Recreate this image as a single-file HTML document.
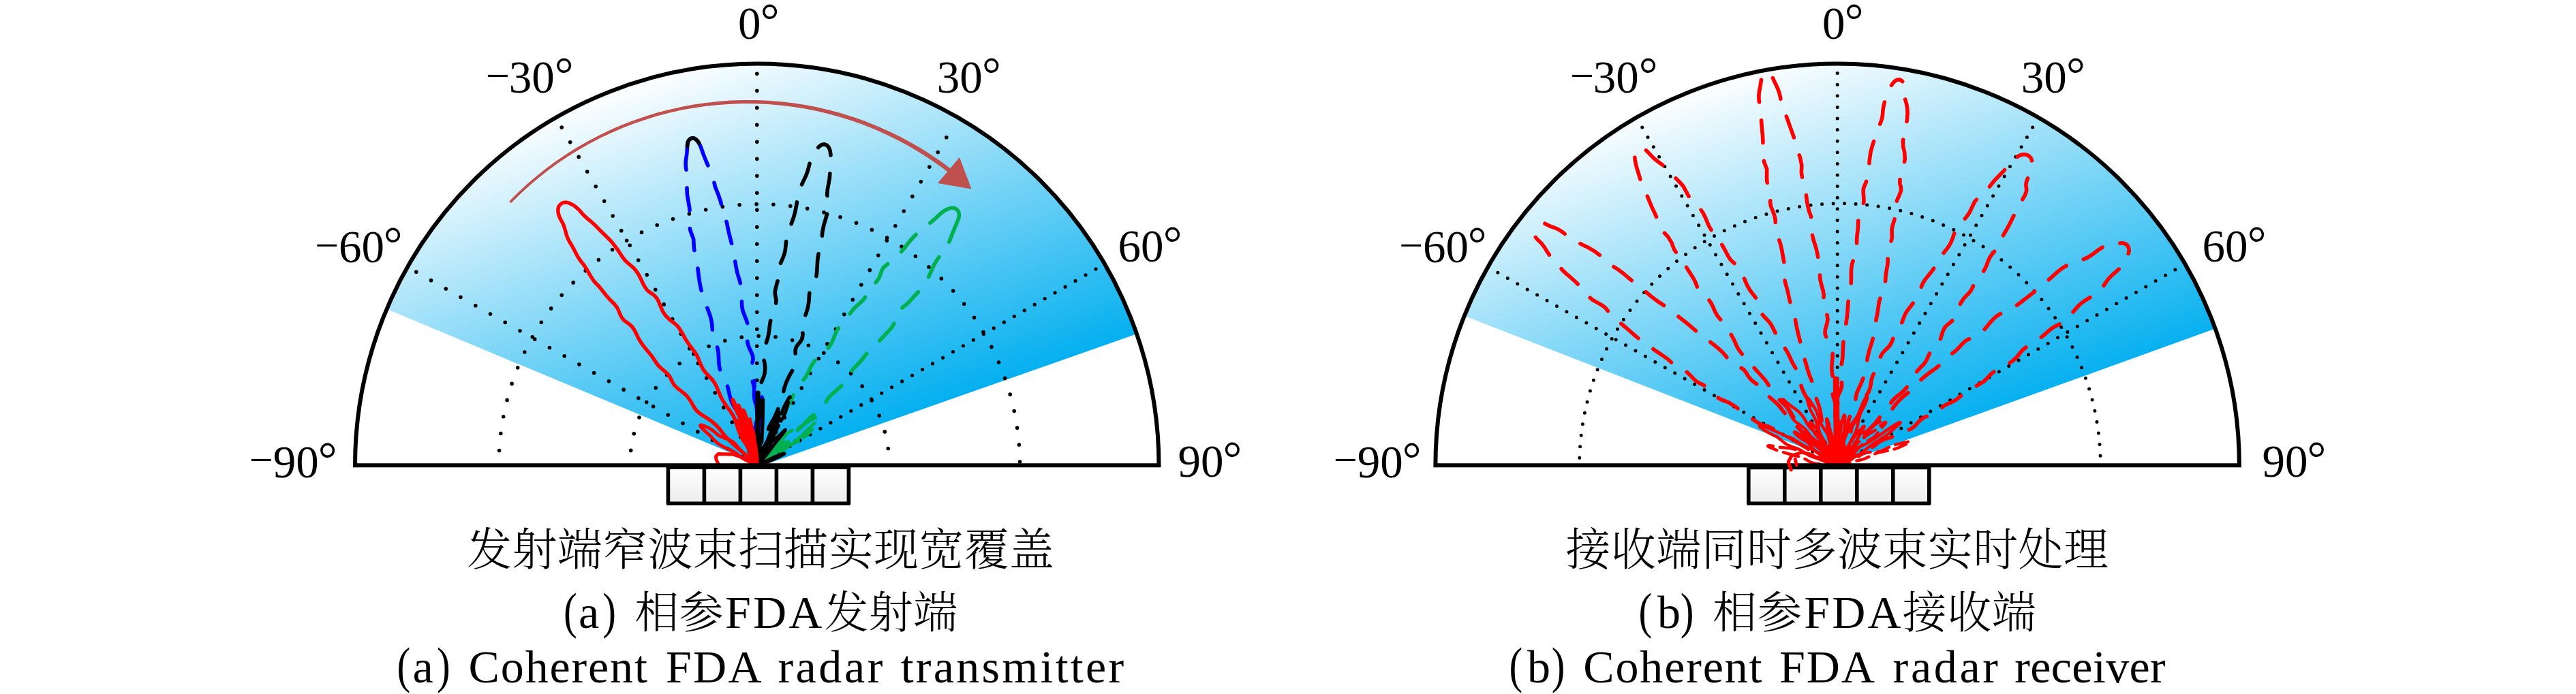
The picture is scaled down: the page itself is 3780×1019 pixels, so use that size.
<!DOCTYPE html>
<html lang="zh"><head><meta charset="utf-8"><title>Coherent FDA radar</title>
<style>html,body{margin:0;padding:0;background:#fff}svg{display:block}text{font-family:'Liberation Serif','Noto Serif CJK SC',serif;fill:#000;white-space:pre}</style>
</head><body>
<svg width="3780" height="1019" viewBox="0 0 3780 1019">
<defs>
<linearGradient id="gL" gradientUnits="userSpaceOnUse" x1="1116.7" y1="52.7" x2="1320" y2="625.7"><stop offset="0" stop-color="#fff"/><stop offset="1" stop-color="#00aeef"/></linearGradient>
<linearGradient id="gR" gradientUnits="userSpaceOnUse" x1="2702.1" y1="52.7" x2="2905.4" y2="625.7"><stop offset="0" stop-color="#fff"/><stop offset="1" stop-color="#00aeef"/></linearGradient>
<linearGradient id="gbox" x1="0" y1="0" x2="0" y2="1"><stop offset="0" stop-color="#fff"/><stop offset="1" stop-color="#ececec"/></linearGradient>
</defs>
<rect width="3780" height="1019" fill="#fff"/>
<path d="M1117.75 683.80 L567.48 453.81 A589.75 589.75 0 0 1 1668.03 490.32 Z" fill="url(#gL)"/>
<g fill="none" stroke="#000" stroke-width="5.6" stroke-linecap="round" stroke-dasharray="0 25">
<path d="M610.8 399.3 L1110.8 683.3"/>
<path d="M824.2 187.1 L1110.8 683.3"/>
<path d="M1110.8 108.3 L1110.8 683.3"/>
<path d="M1388.8 201.8 L1110.8 683.3"/>
<path d="M1608 395.1 L1110.8 683.3" stroke-dasharray="0 17.3" stroke-width="5.2"/>
<path d="M731.95 683.30 A382.30 383.50 0 0 1 1114.25 299.80 A382.30 383.50 0 0 1 1496.55 683.30" stroke-dashoffset="3"/>
<path d="M924.45 683.30 A190.20 190.00 0 0 1 1114.65 493.30 A190.20 190.00 0 0 1 1304.85 683.30" stroke-dashoffset="3"/>
</g>
<path d="M1110.8 683.3 L1113.8 682 L1116.9 680.7 L1120.2 679.6 L1123.5 678.4 L1126.8 677.1 L1130 675.8 L1133.1 674.2 L1136 672.4 L1138.8 670.5 L1141.5 668.5 L1144.1 666.4 L1146.5 664.4 L1148.7 662.4 L1151 660.5 L1153.2 658.5 L1155.5 656.7 L1157.9 654.8 L1160.5 653.1 L1163.1 651.3 L1166.3 649 L1169.3 646.7 L1172 644.3 L1174.6 641.8 L1177 639.3 L1179.2 636.8 L1181.4 634.5 L1183.6 632.4 L1185.7 630.4 L1187.6 628.6 L1189.4 626.9 L1191 625.4 L1192.5 624 L1193.8 622.7 L1195 621.6 L1196 620.5 L1196.9 619.5 L1197.7 618.5 L1198.3 617.7 L1198.9 617 L1199.2 616.3 L1199.4 615.6 L1199.5 615.1 L1199.4 614.6 L1199.1 614.1 L1198.7 613.8 L1198.2 613.6 L1197.6 613.5 L1196.9 613.6 L1196.2 613.8 L1195.3 614.1 L1194.2 614.6 L1193.1 615.2 L1191.9 615.8 L1190.5 616.6 L1189 617.5 L1187.4 618.5 L1185.7 619.5 L1183.9 620.7 L1182 621.8 L1180 623 L1178 624.2 L1175.7 625.5 L1173 626.8 L1169.9 628.2 L1166.5 629.7 L1163 631.4 L1159.5 633.4 L1156.3 635.6 L1153.6 638 L1151.8 640.2 L1150 642.5 L1148.2 644.7 L1146.2 647 L1143.9 649.2 L1141.2 651.4 L1138.3 653.5 L1135.3 655.7 L1132.4 657.8 L1129.7 659.9 L1127.3 662.1 L1125 664.3 L1123 666.8 L1121 669.4 L1119 672.1 L1117 675 L1115 677.8 L1112.9 680.6 L1110.8 683.3" fill="none" stroke="#00b050" stroke-width="4.6" stroke-linecap="round" stroke-linejoin="round" stroke-dasharray="28 11"/>
<path d="M1110.8 683.3 L1113.3 681.9 L1115.9 680.6 L1118.5 679.3 L1121.1 678 L1123.6 676.7 L1126 675.4 L1128.4 674.1 L1130.8 672.6 L1133.1 671.2 L1135.4 669.6 L1137.7 668.1 L1140.1 666.4 L1142.5 664.7 L1145 663 L1147.6 661.2 L1150.1 659.5 L1152.7 657.8 L1155.3 656.2 L1157.9 654.7 L1161 653 L1164 651.5 L1166.7 650.1 L1169.2 648.8 L1171.5 647.6 L1173.7 646.3 L1175.6 645 L1177.5 643.7 L1179.3 642.4 L1181 641.1 L1182.6 639.8 L1184.1 638.7 L1185.5 637.6 L1186.8 636.5 L1188 635.6 L1189.1 634.8 L1190.1 634 L1190.9 633.3 L1191.7 632.7 L1192.3 632.2 L1192.8 631.8 L1193.1 631.4 L1193.3 631 L1193.4 630.8 L1193.4 630.6 L1193.2 630.5 L1193 630.4 L1192.6 630.5 L1192.1 630.6 L1191.5 630.8 L1190.8 631.1 L1190 631.5 L1189.1 632 L1188 632.6 L1186.9 633.2 L1185.6 633.9 L1184.3 634.6 L1182.8 635.5 L1181.2 636.5 L1179.6 637.6 L1177.8 638.9 L1175.9 640.3 L1173.9 641.9 L1171.7 643.6 L1169.4 645.3 L1166.8 646.9 L1164 648.4 L1161.1 650 L1158 651.5 L1154.8 653.1 L1152.1 654.5 L1149.6 656 L1147 657.5 L1144.5 659 L1142 660.5 L1139.7 662 L1137.5 663.5 L1135.3 665 L1133.1 666.4 L1130.9 667.9 L1128.7 669.5 L1126.5 671.1 L1124.2 672.8 L1122 674.5 L1119.8 676.3 L1117.5 678.1 L1115.3 679.9 L1113 681.6 L1110.8 683.3" fill="none" stroke="#00b050" stroke-width="4.6" stroke-linecap="round" stroke-linejoin="round" stroke-dasharray="11 9"/>
<path d="M1110.8 683.3 L1112.3 682.5 L1113.9 681.7 L1115.5 681 L1117.1 680.3 L1118.7 679.6 L1120.3 678.9 L1121.8 678.1 L1123.2 677.2 L1124.6 676.3 L1125.9 675.3 L1127.2 674.4 L1128.4 673.4 L1129.6 672.4 L1130.8 671.3 L1131.9 670.3 L1133 669.2 L1134.1 668.2 L1135.3 667.1 L1136.6 666.1 L1138.1 664.8 L1139.7 663.6 L1141.3 662.4 L1142.8 661.3 L1144.3 660.3 L1145.8 659.3 L1147.1 658.3 L1148.4 657.4 L1149.5 656.5 L1150.6 655.6 L1151.5 654.8 L1152.4 654 L1153.2 653.3 L1153.9 652.6 L1154.6 652 L1155.2 651.5 L1155.7 651 L1156.1 650.5 L1156.5 650.1 L1156.8 649.7 L1157 649.4 L1157.2 649.1 L1157.2 648.8 L1157.2 648.6 L1157.2 648.5 L1157 648.3 L1156.8 648.3 L1156.6 648.3 L1156.2 648.3 L1155.9 648.5 L1155.4 648.6 L1154.9 648.9 L1154.4 649.2 L1153.7 649.5 L1153 649.9 L1152.2 650.3 L1151.4 650.8 L1150.5 651.3 L1149.5 651.9 L1148.5 652.5 L1147.3 653.1 L1146.1 653.9 L1144.9 654.7 L1143.6 655.5 L1142.3 656.5 L1141 657.5 L1139.6 658.6 L1138.1 659.9 L1136.7 661.2 L1135.1 662.6 L1133.9 663.7 L1132.6 664.8 L1131.2 665.9 L1129.8 666.9 L1128.4 667.9 L1127 668.9 L1125.6 669.8 L1124.2 670.8 L1122.8 671.8 L1121.4 672.8 L1120.1 673.8 L1118.8 674.8 L1117.6 675.9 L1116.4 677.1 L1115.3 678.3 L1114.2 679.6 L1113 680.9 L1111.9 682.1 L1110.8 683.3" fill="none" stroke="#00b050" stroke-width="4.6" stroke-linecap="round" stroke-linejoin="round"/>
<path d="M1403.9 307.7 L1402.2 306.4 L1400.3 305.6 L1398.2 305.2 L1396.1 305.3 L1393.9 305.8 L1391.5 306.6 L1388.9 307.7 L1386 309.3 L1382.8 311.5 L1379.3 314.4 L1375.5 318 L1371.6 321.7 L1367.4 325.4 L1362.8 329 L1357.7 333 L1352 337.5 L1346.1 342.5 L1340.6 347.9 L1335.5 353.5 L1330.9 359.3 L1326.3 365.3 L1320.4 372.1 L1312.9 379.5 L1304.4 386 L1296.7 392.5 L1294.3 396.4 L1292.6 400.9 L1290.9 405.6 L1288.8 410.1 L1285.7 414 L1282.1 417.6 L1278.5 421.1 L1275.5 425 L1273.1 429.2 L1271 433.7 L1268.5 438 L1265.3 441.9 L1261.3 445.5 L1257.2 449.1 L1253.2 452.9 L1249.7 457.1 L1246.6 461.5 L1243.5 466 L1240.1 470.4 L1236.5 474.6 L1232.9 478.6 L1229.9 482.5 L1227.5 486.4 L1225.8 490.2 L1224.3 494 L1222.8 497.9 L1221 501.9 L1218.8 506 L1215.9 510.1 L1212.1 514.2 L1207.7 518.2 L1203.2 522.2 L1199 526 L1195.6 529.8 L1192.8 533.7 L1190.4 537.6 L1188.3 541.7 L1186.3 546 L1184.1 550.3 L1181.6 554.5 L1178.5 558.6 L1175.1 562.6 L1171.6 566.6 L1168.6 570.9 L1166 575.6 L1163.9 580.5 L1161.9 585.2 L1159.7 589.7 L1157.3 594 L1154.9 598.2 L1152.5 602.7 L1150.2 607.6 L1148 612.5 L1146.1 617.1 L1144.3 621.2 L1142.6 624.7 L1140.8 628.2 L1138.7 632.4 L1136.1 637.6 L1133.2 643.4 L1130.4 649 L1128 653.7 L1125.9 657.6 L1123.8 661.3 L1121.4 665.3 L1118.6 669.6 L1115.9 674.2 L1113.2 678.8 L1110.8 683.3" fill="none" stroke="#00b050" stroke-width="5.6" stroke-linecap="round" stroke-linejoin="round" stroke-dasharray="47.2 27 33 27 33 27 33 27 33 27 33 27 33 27 33 27 33 27 33 27 33 27 33 27 33 27"/>
<path d="M1403.9 307.7 L1405.4 309.2 L1406.5 311 L1407.1 312.9 L1407.4 315.2 L1407.2 317.8 L1406.6 320.6 L1405.5 323.7 L1404.2 326.9 L1402.8 330.3 L1401.2 334 L1399.6 337.9 L1397.7 342.6 L1395.5 348.3 L1393 354.5 L1390.3 360.3 L1387.5 365 L1384.2 369.3 L1380.1 374.5 L1375.1 381.4 L1370.4 389.3 L1366.5 397.8 L1362.8 406.4 L1358.5 414.9 L1352.9 422.9 L1345.8 430.5 L1342.3 434.2 L1338.8 438.1 L1335.3 442 L1331.6 445.7 L1327.6 449 L1323.7 452 L1320.1 455 L1317.3 458.5 L1315.6 462.7 L1314.4 467.4 L1313.1 472.2 L1311.1 476.9 L1308.2 481.2 L1304.7 485.3 L1300.9 489.3 L1297.3 493.1 L1293.8 496.9 L1290.2 500.6 L1286.4 504.3 L1282.5 508.1 L1278.6 511.8 L1274.9 515.4 L1271.8 518.9 L1269.2 522.4 L1266.6 525.9 L1263.5 529.7 L1259.8 533.6 L1255.8 537.8 L1251.9 541.9 L1248.9 545.8 L1246.7 549.6 L1245 553.2 L1243.1 556.8 L1240.5 560.5 L1237.2 564.2 L1233.3 568 L1228.9 571.9 L1224.4 575.7 L1220 579.6 L1216.2 583.6 L1213.3 587.8 L1211.2 592 L1209.1 596.2 L1206.4 600.1 L1202.5 603.7 L1197.7 607 L1192.7 610.3 L1188.3 613.7 L1184.6 617.4 L1181.4 621 L1178.3 624.6 L1175 627.7 L1171.4 630.7 L1167.7 633.7 L1164.2 636.7 L1160.8 640.1 L1157.2 643.5 L1153.2 646.8 L1148.4 649.6 L1143.2 652.3 L1138.2 655 L1134.3 658.3 L1131.5 662.2 L1129 666.1 L1126.3 669.9 L1123 673.4 L1119.1 676.6 L1114.9 679.8 L1110.8 683.3" fill="none" stroke="#00b050" stroke-width="5.6" stroke-linecap="round" stroke-linejoin="round" stroke-dasharray="51.2 27 33 27 33 27 33 27 33 27 33 27 33 27 33 27 33 27 33 27 33 27 33 27 33 27"/>
<path d="M1015 203 L1013.2 203.7 L1011.6 204.9 L1010.3 206.6 L1009.3 208.8 L1008.8 211.6 L1008.5 214.9 L1008.3 218.8 L1008 223.2 L1007.5 228.1 L1006.7 233.3 L1006.1 238.8 L1006.3 244.9 L1007.4 251.7 L1008.5 259.3 L1008.5 267.7 L1008 276.6 L1008.3 285.1 L1009.8 294.2 L1011.8 305.4 L1012.3 317.1 L1010.8 327.3 L1012.9 338.2 L1017.6 350.9 L1018.4 364.2 L1020.2 376.1 L1021.4 379.9 L1022.5 383.8 L1023.2 388.1 L1023.8 392.6 L1024.3 397.4 L1024.9 402.7 L1025.7 408.2 L1026.5 413.7 L1027.5 419.1 L1028.5 424 L1029.6 428.3 L1030.6 432.3 L1031.8 436.1 L1033.2 440 L1034.7 444.1 L1036.3 448.4 L1038.1 452.8 L1039.9 457.5 L1041.6 462.3 L1043 467.2 L1044.1 471.8 L1044.7 476.2 L1045 480.2 L1045.3 484.3 L1045.9 488.5 L1047 493.1 L1048.5 498 L1050.3 502.9 L1051.9 507.6 L1053.1 511.9 L1053.8 515.8 L1054.2 519.8 L1054.5 524.1 L1054.7 528.9 L1055 533.9 L1055.6 538.9 L1056.7 543.4 L1058.4 547.1 L1060.5 550.5 L1062.8 554.1 L1064.9 558.5 L1066.7 563.8 L1068.2 569.6 L1069.5 575.4 L1070.7 580.6 L1071.8 584.8 L1073 588.3 L1074.4 591.6 L1076 594.9 L1077.9 598.4 L1080 602.3 L1082.1 606.6 L1084.2 611.3 L1086.2 616.2 L1088.1 621.2 L1089.9 626.1 L1091.4 630.6 L1092.7 634.8 L1093.9 639 L1095 643.3 L1096.4 647.9 L1098 652.5 L1099.7 657.1 L1101.7 661.4 L1103.8 665.6 L1105.7 669.8 L1107.6 674.2 L1109.2 678.7 L1110.8 683.3" fill="none" stroke="#00f" stroke-width="5.6" stroke-linecap="round" stroke-linejoin="round" stroke-dasharray="49.2 27 33 27 33 27 33 27 33 27 33 27 33 27 33 27 33 27 33 27 33 27 33 27 33 27"/>
<path d="M1015 203 L1017 202.9 L1018.8 203.3 L1020.6 204.2 L1022.4 205.8 L1024.1 207.7 L1025.7 210.2 L1027.1 213 L1028.4 216.1 L1029.8 219.8 L1031.4 224.5 L1033.7 230.5 L1036.5 237.5 L1039.9 245.2 L1043.6 253.1 L1046.4 260.5 L1047.7 267.2 L1049.6 274.8 L1053.7 284.9 L1057.7 296.6 L1059.8 308 L1062.6 317.1 L1066.3 326.3 L1069 339.3 L1072.5 353.7 L1076 365.9 L1076.7 369.4 L1077.2 373.1 L1077.8 377.5 L1078.6 382.8 L1079.5 388.6 L1080.6 394.5 L1081.7 399.8 L1082.9 404 L1084 407.6 L1085.1 411 L1086.1 414.7 L1087 419.1 L1087.8 424 L1088.3 429.1 L1088.6 434.3 L1088.6 439.4 L1088.5 444.3 L1088.7 449.1 L1089.4 453.7 L1090.6 458.2 L1092.3 462.6 L1094 466.7 L1095.5 470.8 L1096.7 474.7 L1097.4 478.7 L1097.7 482.9 L1097.5 487.5 L1097 492.4 L1096.6 497.6 L1096.9 502.9 L1098.4 508.3 L1100.6 513.5 L1103 518.5 L1104.7 523.3 L1105 527.8 L1104.2 532 L1103.1 536 L1102.3 539.9 L1102.7 543.8 L1103.9 547.7 L1105.4 551.9 L1106.6 556.5 L1107.1 561.4 L1107 566.7 L1106.6 572 L1106.4 577.2 L1106.6 581.9 L1107.1 586.4 L1108 590.8 L1108.9 595.3 L1109.8 600 L1110.6 604.8 L1110.9 609.7 L1110.8 614.5 L1110 619.3 L1109 624 L1108 628.4 L1107.3 632.6 L1107.1 636.7 L1107.1 640.9 L1107.4 645.4 L1107.9 650.4 L1108.3 655.7 L1108.8 660.9 L1109.2 665.8 L1109.7 670.5 L1110.1 674.8 L1110.4 679 L1110.8 683.3" fill="none" stroke="#00f" stroke-width="5.6" stroke-linecap="round" stroke-linejoin="round" stroke-dasharray="49.2 27 33 27 33 27 33 27 33 27 33 27 33 27 33 27 33 27 33 27 33 27 33 27 33 27"/>
<path d="M1025.7 210.2 L1024.1 207.7 L1022.4 205.8 L1020.6 204.2 L1018.8 203.3 L1017 202.9 L1015 203 L1013.2 203.7 L1011.6 204.9 L1010.3 206.6 L1009.3 208.8 L1008.8 211.6 L1008.5 214.9" fill="none" stroke="#000" stroke-width="5.6" stroke-linecap="round" stroke-linejoin="round"/>
<path d="M1103.8 560 L1106.8 572 L1109.8 600 L1111.8 620" fill="none" stroke="#00f" stroke-width="4.5" stroke-linecap="round" stroke-linejoin="round"/>
<path d="M1110.8 683.3 L1111.2 680.4 L1111.7 677.4 L1112.3 674.4 L1113 671.5 L1113.5 668.6 L1114.1 665.7 L1114.5 662.9 L1114.7 660.1 L1114.9 657.3 L1115.1 654.5 L1115.3 651.7 L1115.5 648.9 L1115.8 646 L1116.2 643 L1116.5 640 L1116.9 636.9 L1117.2 633.8 L1117.4 630.7 L1117.4 627.5 L1117.3 623.7 L1117 620 L1116.8 616.6 L1116.5 613.3 L1116.5 610.3 L1116.7 607.5 L1116.9 604.9 L1117.3 602.5 L1117.6 600.2 L1117.9 598 L1118.1 596 L1118.4 594.1 L1118.5 592.4 L1118.7 590.7 L1118.8 589.2 L1118.8 587.9 L1118.9 586.7 L1118.9 585.6 L1118.9 584.7 L1118.8 583.9 L1118.8 583.3 L1118.7 582.7 L1118.6 582.4 L1118.4 582.2 L1118.3 582.1 L1118.1 582.2 L1117.9 582.4 L1117.7 582.7 L1117.6 583.3 L1117.4 583.9 L1117.3 584.7 L1117.1 585.7 L1116.9 586.8 L1116.7 588.1 L1116.5 589.5 L1116.3 591.2 L1116.1 593 L1115.9 595 L1115.6 597.1 L1115.2 599.3 L1114.9 601.6 L1114.6 603.8 L1114.4 606.1 L1114.3 608.2 L1114.4 610.3 L1114.5 612.4 L1114.6 614.8 L1114.5 617.5 L1114.3 620.8 L1113.7 624.7 L1113 628.1 L1112.3 631.7 L1111.6 635.2 L1111 638.6 L1110.5 641.8 L1110.2 644.8 L1110 647.6 L1110.1 650.4 L1110.2 653.2 L1110.3 656.1 L1110.5 659.1 L1110.7 662.2 L1110.9 665.3 L1111.1 668.4 L1111.1 671.5 L1111.1 674.5 L1111.1 677.5 L1110.9 680.4 L1110.8 683.3" fill="none" stroke="#00f" stroke-width="4" stroke-linecap="round" stroke-linejoin="round"/>
<path d="M1110.8 683.3 L1112.5 680.7 L1114.3 678.1 L1116.2 675.4 L1118 672.8 L1119.8 670 L1121.5 667.1 L1123.1 664.2 L1124.6 661.1 L1126 658.1 L1127.3 655.1 L1128.6 652.2 L1130 649.6 L1131.3 647.1 L1132.6 644.7 L1134 642.2 L1135.4 639.7 L1136.8 636.9 L1138.2 634 L1139.7 630.9 L1141.5 627 L1143.3 623.4 L1145.1 620 L1146.8 617 L1148.5 614.1 L1150.1 611.4 L1151.4 608.6 L1152.5 605.8 L1153.4 603 L1154.2 600.3 L1155 597.8 L1155.6 595.6 L1156.2 593.6 L1156.8 591.8 L1157.3 590.3 L1157.8 588.9 L1158.2 587.6 L1158.6 586.4 L1159 585.4 L1159.2 584.6 L1159.4 583.9 L1159.5 583.3 L1159.5 582.9 L1159.5 582.6 L1159.3 582.5 L1159.1 582.5 L1158.9 582.6 L1158.5 582.9 L1158.1 583.4 L1157.7 584 L1157.2 584.8 L1156.6 585.8 L1156 586.9 L1155.3 588.2 L1154.5 589.5 L1153.6 591.1 L1152.6 592.8 L1151.7 594.7 L1150.7 596.7 L1149.7 599 L1148.8 601.3 L1148 603.8 L1147.2 606.4 L1146.4 609.2 L1145.3 612.1 L1143.8 615.2 L1142 618.6 L1139.9 622.2 L1137.7 626 L1135.5 629.8 L1133.9 632.9 L1132.4 635.9 L1130.9 638.9 L1129.5 641.8 L1128.1 644.7 L1126.6 647.6 L1125.1 650.4 L1123.5 653.1 L1122 655.7 L1120.6 658.3 L1119.2 660.8 L1118 663.2 L1116.9 665.8 L1115.8 668.4 L1114.9 671.1 L1113.9 674 L1112.9 677 L1111.9 680.1 L1110.8 683.3" fill="none" stroke="#000" stroke-width="4.6" stroke-linecap="round" stroke-linejoin="round" stroke-dasharray="30 7"/>
<path d="M1110.8 683.3 L1111.9 681.2 L1113.2 679.1 L1114.5 677 L1115.8 674.8 L1117 672.7 L1118.2 670.5 L1119.3 668.3 L1120.4 666 L1121.3 663.7 L1122.2 661.4 L1123.1 659 L1123.9 656.6 L1124.8 654.2 L1125.7 651.7 L1126.6 649.2 L1127.7 646.7 L1128.8 644.3 L1129.9 641.9 L1131 639.6 L1132.3 637 L1133.4 634.6 L1134.2 632.5 L1134.9 630.6 L1135.5 628.8 L1136.1 626.9 L1136.8 625.1 L1137.5 623.2 L1138.3 621.3 L1139 619.5 L1139.8 617.7 L1140.6 616 L1141.3 614.4 L1141.9 612.9 L1142.5 611.6 L1142.9 610.5 L1143.3 609.5 L1143.7 608.5 L1144 607.8 L1144.2 607.1 L1144.4 606.5 L1144.5 606.1 L1144.6 605.7 L1144.6 605.5 L1144.5 605.4 L1144.4 605.4 L1144.2 605.5 L1144 605.8 L1143.8 606.1 L1143.5 606.6 L1143.2 607.1 L1142.9 607.8 L1142.5 608.6 L1142.1 609.5 L1141.6 610.6 L1141 611.7 L1140.4 613 L1139.7 614.4 L1139 616 L1138.2 617.7 L1137.3 619.5 L1136.3 621.6 L1135.2 623.7 L1134.1 626.1 L1133 628.4 L1132 630.9 L1131 633.3 L1130 635.7 L1129.2 638.1 L1128.2 640.6 L1127.5 642.6 L1126.6 644.6 L1125.8 646.7 L1124.8 648.7 L1123.8 650.8 L1122.7 653 L1121.7 655.2 L1120.6 657.4 L1119.6 659.6 L1118.5 661.9 L1117.5 664.2 L1116.5 666.5 L1115.6 668.9 L1114.7 671.3 L1113.9 673.7 L1113.2 676.1 L1112.4 678.5 L1111.6 680.9 L1110.8 683.3" fill="none" stroke="#000" stroke-width="4.6" stroke-linecap="round" stroke-linejoin="round"/>
<path d="M1110.8 683.3 L1112.1 681.9 L1113.4 680.6 L1114.6 679.3 L1115.9 678.1 L1117.1 676.8 L1118.3 675.5 L1119.5 674.2 L1120.6 672.8 L1121.8 671.4 L1123 669.9 L1124.1 668.4 L1125.3 666.9 L1126.5 665.3 L1127.8 663.7 L1129 662.1 L1130.2 660.5 L1131.5 658.8 L1132.7 657.2 L1133.9 655.6 L1135.3 653.6 L1136.8 651.8 L1138.1 650 L1139.4 648.4 L1140.7 646.8 L1141.9 645.3 L1143.1 643.9 L1144.2 642.5 L1145.3 641.2 L1146.3 640 L1147.1 638.8 L1148 637.7 L1148.7 636.7 L1149.4 635.8 L1150 635 L1150.6 634.2 L1151.1 633.5 L1151.5 632.9 L1151.9 632.4 L1152.2 631.9 L1152.4 631.5 L1152.6 631.2 L1152.6 631 L1152.6 630.8 L1152.6 630.7 L1152.5 630.7 L1152.3 630.7 L1152.1 630.9 L1151.8 631.1 L1151.5 631.4 L1151.1 631.7 L1150.7 632.2 L1150.2 632.7 L1149.6 633.3 L1149 634 L1148.3 634.7 L1147.5 635.5 L1146.6 636.4 L1145.7 637.3 L1144.6 638.3 L1143.4 639.4 L1142.1 640.5 L1140.6 641.7 L1139 642.9 L1137.3 644.2 L1135.6 645.7 L1133.9 647.2 L1132.4 648.9 L1131.1 650.9 L1130.2 653 L1129.6 654.7 L1129 656.5 L1128.3 658.2 L1127.5 659.9 L1126.6 661.5 L1125.6 663 L1124.4 664.5 L1123.2 666 L1121.9 667.5 L1120.6 668.9 L1119.3 670.4 L1118.1 671.9 L1116.9 673.4 L1115.8 675 L1114.8 676.7 L1113.8 678.3 L1112.8 680 L1111.8 681.6 L1110.8 683.3" fill="none" stroke="#000" stroke-width="4.6" stroke-linecap="round" stroke-linejoin="round"/>
<path d="M1110.8 683.3 L1112 683 L1113.2 682.6 L1114.5 682.3 L1115.8 682 L1117 681.7 L1118.3 681.4 L1119.6 681 L1120.8 680.6 L1122 680.1 L1123.3 679.6 L1124.5 679.2 L1125.7 678.7 L1126.9 678.2 L1128 677.7 L1129.2 677.2 L1130.4 676.7 L1131.5 676.1 L1132.7 675.6 L1133.9 675.1 L1135.3 674.5 L1136.6 673.9 L1137.8 673.3 L1139 672.7 L1140.2 672.2 L1141.3 671.6 L1142.3 671.1 L1143.3 670.7 L1144.2 670.2 L1145.1 669.8 L1145.9 669.3 L1146.6 668.9 L1147.3 668.6 L1148 668.2 L1148.5 667.9 L1149.1 667.6 L1149.5 667.4 L1149.9 667.1 L1150.3 666.9 L1150.6 666.7 L1150.8 666.5 L1151 666.4 L1151.1 666.2 L1151.1 666.1 L1151.1 666 L1151 665.9 L1150.9 665.8 L1150.7 665.8 L1150.5 665.8 L1150.2 665.9 L1149.8 665.9 L1149.4 666.1 L1149 666.2 L1148.5 666.3 L1147.9 666.5 L1147.2 666.7 L1146.5 667 L1145.8 667.2 L1145 667.5 L1144.1 667.8 L1143.2 668.2 L1142.2 668.5 L1141.2 668.9 L1140.1 669.3 L1139 669.8 L1137.8 670.3 L1136.6 670.8 L1135.3 671.4 L1134 672 L1132.7 672.7 L1131.6 673.2 L1130.5 673.7 L1129.4 674.3 L1128.3 674.8 L1127.1 675.3 L1126 675.8 L1124.8 676.3 L1123.6 676.8 L1122.4 677.3 L1121.2 677.8 L1120 678.3 L1118.8 678.9 L1117.6 679.4 L1116.5 680.1 L1115.3 680.7 L1114.2 681.4 L1113 682 L1111.9 682.7 L1110.8 683.3" fill="none" stroke="#000" stroke-width="4.6" stroke-linecap="round" stroke-linejoin="round"/>
<path d="M1210.4 212.2 L1208.5 212 L1206.6 212.3 L1204.8 213.1 L1203 214.3 L1201.3 215.9 L1199.6 218 L1197.8 220.5 L1195.9 223.3 L1193.8 226.3 L1191.8 229.6 L1190 233.6 L1188.5 238.5 L1187 244.3 L1185.3 250.7 L1183 257.2 L1180 263.6 L1176.9 270.1 L1174.2 276.7 L1171.9 283.9 L1170.1 292.5 L1168.6 301.8 L1167 310.3 L1164.8 318.4 L1161.5 327.7 L1157.6 338.6 L1156 343.9 L1154.7 349.1 L1153.7 354.2 L1153.1 359 L1152.7 363.5 L1152.1 368.2 L1150.9 373.1 L1148.9 378.5 L1146.5 384 L1144.3 389.2 L1143.1 393.7 L1142.9 397.5 L1142.9 401.3 L1142.7 405.7 L1141.5 411.2 L1139.7 417.6 L1138 423.9 L1137.2 429.4 L1137.6 433.7 L1138.4 437.3 L1139 441.1 L1138.6 445.7 L1137.2 450.9 L1135.2 456.4 L1133.3 461.6 L1131.9 466.1 L1130.8 470.4 L1129.9 474.8 L1129.3 479.7 L1128.6 485.4 L1127.7 491.4 L1126.3 497.4 L1124.4 503.1 L1122.3 508.4 L1120.6 513.4 L1119.8 518.4 L1120 523.2 L1120.9 528.1 L1122 533 L1122.6 538.1 L1122.6 543.2 L1122.1 548.1 L1120.9 552.5 L1119.3 556.5 L1117.6 560.3 L1116.3 564.4 L1115.7 569.1 L1115.9 574.4 L1116.5 580 L1117.1 585.7 L1117.5 591.2 L1117.4 596.5 L1116.7 601.5 L1115.6 606.3 L1114.1 610.9 L1112.8 615.8 L1112.3 621.1 L1112.7 627 L1113.7 633.2 L1114.9 639.2 L1115.7 644.6 L1115.6 649.3 L1115 653.7 L1114.2 658.3 L1113.3 663.1 L1112.5 668.1 L1111.8 673.2 L1111.3 678.3 L1110.8 683.3" fill="none" stroke="#000" stroke-width="5.6" stroke-linecap="round" stroke-linejoin="round" stroke-dasharray="33 27" stroke-dashoffset="21.8"/>
<path d="M1210.4 212.2 L1212.2 212.8 L1213.8 213.7 L1215.1 215 L1216.2 216.8 L1217.2 218.8 L1218 221.3 L1218.5 224 L1218.9 227.1 L1219.1 230.5 L1219 234.5 L1218.8 238.9 L1218.4 244 L1218.1 249.4 L1217.8 255.1 L1217.3 261.5 L1216.1 268.8 L1214.5 276.9 L1213.6 285.1 L1214.6 292.8 L1215.7 300.7 L1214.7 309.9 L1211.9 320.2 L1208.8 330.8 L1206.8 340.4 L1206.2 348.4 L1205.6 352.4 L1204.7 357.1 L1203.4 362.3 L1202 367.8 L1200.9 373.3 L1200.1 378.5 L1199.6 383.6 L1199.3 388.7 L1199 394.1 L1198.7 399.6 L1198 405 L1196.7 410 L1194.6 414.6 L1192.2 418.8 L1189.9 422.9 L1188.3 427.2 L1187.6 431.7 L1187.3 436.5 L1187 441.7 L1186.3 447.1 L1185.2 452.6 L1183.6 457.9 L1181.9 462.7 L1180.2 467 L1178.7 471.1 L1177.8 475.7 L1177.6 481 L1177.9 486.9 L1177.9 492.7 L1176.8 497.9 L1174.3 502 L1171.1 505.7 L1168.4 509.4 L1167.1 514.1 L1167.2 519.6 L1167.9 525.4 L1168.3 530.9 L1167.4 535.5 L1165.6 539.6 L1163 543.7 L1160.2 548.3 L1157.4 553.6 L1154.8 559 L1152.8 564.1 L1151.3 568.5 L1150.3 572.3 L1149.5 576 L1148.5 580.2 L1147.1 585.2 L1145.3 590.8 L1143.3 596.6 L1141 602.6 L1138.5 608.3 L1136.1 613.5 L1133.7 618 L1131.4 621.7 L1129.5 625.2 L1127.9 629 L1126.6 633.9 L1125.5 639.7 L1124.3 645.7 L1122.6 651.3 L1120.6 656 L1118.4 660.2 L1116.4 664.4 L1114.7 668.8 L1113.3 673.4 L1112.1 678.2 L1110.8 683.3" fill="none" stroke="#000" stroke-width="5.6" stroke-linecap="round" stroke-linejoin="round" stroke-dasharray="33 27" stroke-dashoffset="13.8"/>
<path d="M1112.2 577 L1111.8 620 L1111.5 682" fill="none" stroke="#000" stroke-width="7" stroke-linecap="round" stroke-linejoin="round"/>
<path d="M1111.8 640 L1112 682" fill="none" stroke="#000" stroke-width="10" stroke-linecap="round" stroke-linejoin="round"/>
<path d="M1119.8 587 L1119.2 620 L1117.8 650" fill="none" stroke="#000" stroke-width="5" stroke-linecap="round" stroke-linejoin="round"/>
<path d="M1110.8 683.3 L1107.9 678 L1105.1 672.6 L1102.4 667.3 L1100 662.5 L1097.9 658.1 L1095.9 654.3 L1093.8 650.9 L1091.4 647.6 L1088.9 643.6 L1086.4 638.6 L1083.9 632.4 L1081.7 625.8 L1079.6 619.6 L1077.8 614.5 L1075.9 610.4 L1073.5 606.5 L1070.5 602.3 L1066.8 597.3 L1063.1 591.9 L1059.7 586.5 L1057.1 581.3 L1055 576.3 L1053.1 571.6 L1051.2 567 L1048.9 562.7 L1046.2 558.7 L1043 555 L1039.4 551.4 L1035.6 547.4 L1032.1 542.7 L1029.1 537 L1026.5 531 L1024.2 525.3 L1021.9 520.7 L1019.7 517.2 L1017.3 514 L1014.6 510.5 L1011.6 506.5 L1008.5 502 L1005.3 496.9 L1002.3 491.4 L999.2 486 L996 481.1 L992.7 477.2 L989.1 474.2 L985.4 471.5 L981.8 468.7 L978.3 465.2 L975 461.1 L972 456.1 L969.5 450.3 L967.1 444.3 L964.4 438.8 L961.1 434.6 L957.3 431.7 L953.2 429 L949.4 425.7 L946.2 421.2 L943.3 415.9 L940.8 410.5 L938.3 405.4 L935.7 400.8 L932.8 396.8 L929.4 393.1 L925.5 389.8 L921.4 386.3 L917.4 382.5 L913.8 377.9 L910.5 373 L905.3 365.1 L900.3 358.6 L895.6 353 L890.9 348.3 L886.2 343.8 L881.5 339.1 L876.8 334.3 L872.2 329.7 L867.6 325.6 L863.1 321.9 L859 318.3 L855.4 314.7 L852.2 311 L849.1 307.5 L845.9 304.7 L842.8 302.3 L839.8 300.5 L837.1 299.1 L834.6 298.1 L832.4 297.5 L830.4 297.3 L828.4 297.3 L826.4 297.6 L824.6 298.4 L822.9 299.6 L821.4 301.1 L820.2 302.7 L819.4 304.6 L819 306.6 L818.8 308.9 L819 311.4 L819.5 314.1 L820.4 316.9 L821.5 319.8 L822.9 322.6 L824.5 325.4 L826.2 328.6 L827.8 332.7 L829.3 337.8 L830.8 343.3 L832.6 348.7 L834.8 353.4 L837.6 358 L840.8 363.5 L844.3 370.2 L848 377.2 L851.9 383 L856.4 388.6 L861.6 396.5 L867.2 406.3 L870.5 411.4 L873.4 415 L876.1 417.7 L878.9 420.5 L882.1 424.3 L885.7 429 L889.7 434 L893.9 438.8 L898.1 443 L902 447 L905.4 451.4 L907.9 456.4 L910 461.6 L912.4 466.4 L915.5 470.2 L919.4 473.1 L923.5 475.9 L927.3 479.4 L930.5 484 L933.2 489.1 L935.6 494.2 L938 498.7 L940.5 502.8 L943.3 506.8 L946.6 510.9 L950.4 515.4 L954.2 520.1 L957.7 524.7 L960.6 529.1 L963.3 533.3 L966.5 537.3 L970.4 541 L974.8 544.6 L979 548.4 L982.4 552.5 L984.8 557 L987 561.6 L989.8 565.9 L993.9 569.8 L998.6 573.5 L1003.5 577.3 L1007.8 581.4 L1011.3 585.9 L1014.2 590.4 L1016.6 594.6 L1018.8 598.4 L1021.3 601.9 L1024.5 605.2 L1029 608.5 L1034.4 612 L1040 615.6 L1045.3 619.4 L1049.9 623.5 L1054 627.6 L1057.2 631.4 L1059.9 635 L1062.7 638.7 L1066.3 642.8 L1071.1 647.5 L1076.4 652.4 L1081.1 656.6 L1084.4 659.6 L1087 661.8 L1089.9 664.3 L1093.9 667.6 L1098.5 671.5 L1103 675.6 L1107 679.6 L1110.8 683.3" fill="none" stroke="#f00" stroke-width="5.4" stroke-linecap="round" stroke-linejoin="round"/>
<path d="M1110.8 683.3 L1108.5 681.4 L1106.3 679.4 L1104.1 677.4 L1102 675.3 L1099.8 673.3 L1097.6 671.2 L1095.3 669.1 L1092.9 667 L1090.6 664.9 L1088.4 662.7 L1086.2 660.5 L1084.2 658.3 L1082.5 656.1 L1080.8 654.1 L1079.1 652.2 L1077.4 650.4 L1075.4 648.8 L1073.2 647.3 L1070.7 646.1 L1067.2 644.7 L1063.7 643.4 L1060.3 642.1 L1057.1 640.7 L1054.3 639 L1051.9 637.1 L1049.6 635.2 L1047.6 633.4 L1045.6 631.9 L1043.7 630.5 L1041.8 629.4 L1040 628.5 L1038.3 627.7 L1036.8 627 L1035.3 626.4 L1034 625.8 L1032.9 625.3 L1031.8 624.8 L1030.9 624.5 L1030.1 624.2 L1029.4 624 L1028.8 624 L1028.4 624 L1028 624.1 L1027.7 624.4 L1027.6 624.7 L1027.6 625.1 L1027.7 625.5 L1028 626.1 L1028.3 626.6 L1028.9 627.3 L1029.5 628 L1030.2 628.8 L1031.1 629.6 L1032.1 630.6 L1033.1 631.6 L1034.2 632.6 L1035.3 633.7 L1036.6 634.8 L1037.8 635.9 L1039.2 637 L1040.6 638.3 L1042.1 639.8 L1043.7 641.5 L1045.5 643.6 L1047.8 646.1 L1050.5 648.7 L1053.5 651.2 L1057 653.5 L1060.8 655.7 L1064 657.2 L1067.2 658.6 L1070.4 660 L1073.3 661.5 L1076 663 L1078.5 664.5 L1080.7 666.1 L1082.8 667.7 L1084.8 669.3 L1086.9 670.9 L1089.1 672.4 L1091.4 673.9 L1093.9 675.3 L1096.5 676.6 L1099.3 677.9 L1102.2 679.2 L1105.1 680.5 L1108 681.9 L1110.8 683.3" fill="none" stroke="#f00" stroke-width="4.8" stroke-linecap="round" stroke-linejoin="round"/>
<path d="M1110.8 683.3 L1109.9 680.5 L1109.1 677.6 L1108.4 674.7 L1107.7 671.7 L1107 668.8 L1106.4 665.8 L1105.9 662.8 L1105.2 659.9 L1104.6 657 L1103.9 654.2 L1103 651.3 L1101.9 648.5 L1100.6 645.8 L1099 643 L1097.3 640.2 L1095.8 637.5 L1094.4 634.7 L1093.4 631.8 L1092.8 628.9 L1092.4 625.3 L1092.1 621.8 L1091.8 618.6 L1091.2 615.6 L1090.2 612.8 L1088.8 610.2 L1087.2 607.8 L1085.7 605.5 L1084.3 603.3 L1083 601.2 L1081.9 599.2 L1081 597.3 L1080.1 595.6 L1079.4 594 L1078.8 592.5 L1078.2 591.1 L1077.6 590 L1077.1 589 L1076.6 588.1 L1076.2 587.4 L1075.9 586.8 L1075.5 586.3 L1075.2 586 L1075 585.9 L1074.7 585.9 L1074.6 586 L1074.5 586.3 L1074.4 586.7 L1074.5 587.3 L1074.6 587.9 L1074.7 588.8 L1075 589.7 L1075.3 590.8 L1075.7 592 L1076.1 593.3 L1076.6 594.8 L1077.2 596.5 L1077.8 598.2 L1078.6 600.1 L1079.6 602.1 L1080.6 604.1 L1081.7 606.3 L1083 608.7 L1084.2 611.2 L1085.4 613.9 L1086.4 617 L1087.3 620.3 L1088.1 624 L1088.9 628 L1089.6 632.3 L1090.2 635.7 L1090.8 639 L1091.4 642.2 L1092 645 L1092.8 647.6 L1093.6 650 L1094.6 652.1 L1095.7 654.3 L1096.9 656.6 L1098.2 659 L1099.5 661.5 L1100.9 664.1 L1102.3 666.9 L1103.8 669.6 L1105.2 672.4 L1106.7 675.2 L1108.1 677.9 L1109.4 680.7 L1110.8 683.3" fill="none" stroke="#f00" stroke-width="4.4" stroke-linecap="round" stroke-linejoin="round"/>
<path d="M1110.8 683.3 L1110.2 680.6 L1109.7 678.1 L1109.4 675.5 L1109.1 673 L1108.7 670.5 L1108.2 668.1 L1107.6 665.6 L1106.8 663.2 L1106 660.7 L1105 658.3 L1104 655.8 L1102.9 653.2 L1101.9 650.7 L1100.9 648 L1100 645.3 L1099.3 642.5 L1098.6 639.6 L1097.9 636.7 L1097.3 633.8 L1096.6 630.2 L1095.9 626.8 L1095.2 623.5 L1094.5 620.4 L1093.7 617.7 L1093 615.3 L1092.2 613.1 L1091.4 611.2 L1090.6 609.3 L1089.9 607.6 L1089.1 606 L1088.5 604.5 L1087.8 603.1 L1087.3 601.7 L1086.7 600.4 L1086.2 599.3 L1085.8 598.3 L1085.4 597.4 L1085 596.6 L1084.7 595.9 L1084.4 595.4 L1084.1 595 L1083.9 594.7 L1083.7 594.6 L1083.5 594.6 L1083.3 594.7 L1083.2 594.9 L1083.1 595.3 L1083.1 595.8 L1083.2 596.4 L1083.3 597.2 L1083.4 598 L1083.6 599 L1083.9 600.1 L1084.1 601.4 L1084.4 602.8 L1084.7 604.3 L1085 606 L1085.4 607.8 L1085.8 609.7 L1086.2 611.8 L1086.7 614.1 L1087.3 616.5 L1087.9 619.1 L1088.6 621.8 L1089.3 624.6 L1090 627.3 L1090.8 630 L1091.6 632.8 L1092.4 635.7 L1093.2 638 L1094 640.4 L1095 642.9 L1096.1 645.5 L1097.3 648.2 L1098.5 651 L1099.6 653.7 L1100.7 656.4 L1101.6 659.1 L1102.4 661.8 L1103.1 664.4 L1103.8 666.9 L1104.5 669.3 L1105.4 671.6 L1106.3 673.9 L1107.4 676.2 L1108.5 678.5 L1109.6 680.9 L1110.8 683.3" fill="none" stroke="#f00" stroke-width="4.4" stroke-linecap="round" stroke-linejoin="round"/>
<path d="M1110.8 683.3 L1110.4 680.8 L1110.2 678.3 L1109.9 675.9 L1109.6 673.4 L1109.3 670.9 L1109 668.5 L1108.5 666.1 L1108 663.6 L1107.4 661.2 L1106.8 658.8 L1106.2 656.4 L1105.6 653.9 L1105.1 651.5 L1104.7 649 L1104.4 646.5 L1104.1 644 L1104 641.5 L1103.8 639.1 L1103.7 636.7 L1103.5 633.8 L1103.2 631.1 L1102.8 628.7 L1102 626.4 L1101.1 624.3 L1100.2 622.3 L1099.3 620.3 L1098.4 618.4 L1097.6 616.6 L1096.8 614.8 L1096 613.2 L1095.3 611.6 L1094.7 610.1 L1094.2 608.7 L1093.7 607.5 L1093.3 606.4 L1092.9 605.4 L1092.5 604.5 L1092.2 603.8 L1091.9 603.2 L1091.6 602.7 L1091.4 602.3 L1091.1 602 L1090.9 601.9 L1090.7 601.8 L1090.5 601.9 L1090.4 602.2 L1090.3 602.5 L1090.3 602.9 L1090.3 603.5 L1090.3 604.1 L1090.3 604.9 L1090.4 605.8 L1090.6 606.8 L1090.8 607.9 L1091 609.1 L1091.1 610.5 L1091.3 612 L1091.6 613.5 L1091.9 615.2 L1092.3 616.9 L1092.8 618.8 L1093.4 620.7 L1094.1 622.8 L1094.8 624.9 L1095.4 627.2 L1096 629.5 L1096.5 632.1 L1097 634.9 L1097.5 637.7 L1098 640.1 L1098.4 642.5 L1099 644.9 L1099.5 647.3 L1100.1 649.8 L1100.7 652.3 L1101.4 654.8 L1102 657.3 L1102.6 659.9 L1103.3 662.4 L1104 664.9 L1104.6 667.4 L1105.4 669.8 L1106.3 672.1 L1107.1 674.4 L1108.1 676.6 L1109 678.9 L1109.9 681.1 L1110.8 683.3" fill="none" stroke="#f00" stroke-width="4.4" stroke-linecap="round" stroke-linejoin="round"/>
<path d="M1110.8 683.3 L1110.6 681.3 L1110.5 679.3 L1110.5 677.2 L1110.5 675.2 L1110.4 673.1 L1110.3 671.1 L1110.2 669 L1110 667 L1109.8 665.1 L1109.7 663.1 L1109.5 661.2 L1109.3 659.4 L1109.1 657.5 L1108.9 655.8 L1108.7 654 L1108.4 652.3 L1108 650.6 L1107.6 649 L1107.1 647.4 L1106.3 645.4 L1105.5 643.5 L1104.7 641.6 L1104.1 639.6 L1103.5 637.7 L1103.1 635.8 L1102.7 634 L1102.5 632.3 L1102.2 630.6 L1102.1 629 L1101.9 627.6 L1101.8 626.2 L1101.6 625 L1101.4 623.8 L1101.2 622.8 L1101 621.9 L1100.8 621.1 L1100.7 620.4 L1100.5 619.7 L1100.4 619.2 L1100.2 618.8 L1100.1 618.5 L1099.9 618.3 L1099.7 618.1 L1099.5 618.1 L1099.4 618.2 L1099.3 618.3 L1099.2 618.6 L1099.1 618.9 L1099.1 619.4 L1099.1 619.9 L1099.2 620.5 L1099.2 621.2 L1099.3 622 L1099.4 622.9 L1099.5 623.9 L1099.6 625 L1099.7 626.2 L1099.9 627.5 L1100.1 629 L1100.2 630.6 L1100.3 632.3 L1100.3 634.2 L1100.4 636.2 L1100.3 638.3 L1100.2 640.5 L1100.1 642.7 L1100.1 644.9 L1100.2 647 L1100.5 648.9 L1100.9 650.4 L1101.4 651.9 L1101.9 653.4 L1102.4 655 L1103 656.6 L1103.5 658.3 L1104.1 660.2 L1104.7 662.1 L1105.2 664 L1105.7 666 L1106.3 668 L1106.8 669.9 L1107.3 671.9 L1107.9 673.9 L1108.5 675.8 L1109.1 677.7 L1109.7 679.6 L1110.2 681.4 L1110.8 683.3" fill="none" stroke="#f00" stroke-width="4.4" stroke-linecap="round" stroke-linejoin="round"/>
<path d="M1110.8 683.3 L1110.8 681.7 L1110.9 680 L1111 678.3 L1111 676.6 L1111.1 674.9 L1111.1 673.2 L1111 671.5 L1110.9 669.9 L1110.8 668.3 L1110.6 666.8 L1110.4 665.4 L1110.2 664 L1110 662.7 L1109.8 661.4 L1109.6 660.2 L1109.4 659.1 L1109.2 658 L1109 656.8 L1108.9 655.6 L1108.6 654.1 L1108.4 652.6 L1108.2 651 L1107.9 649.4 L1107.7 647.8 L1107.4 646.3 L1107.2 644.7 L1107 643.2 L1106.8 641.8 L1106.7 640.4 L1106.5 639.2 L1106.3 638.1 L1106.1 637.1 L1105.9 636.2 L1105.7 635.4 L1105.6 634.6 L1105.4 634 L1105.3 633.4 L1105.1 632.8 L1105 632.4 L1104.8 632.1 L1104.7 631.8 L1104.6 631.6 L1104.4 631.5 L1104.3 631.5 L1104.1 631.5 L1104 631.6 L1103.9 631.8 L1103.8 632.1 L1103.8 632.4 L1103.7 632.8 L1103.7 633.2 L1103.7 633.8 L1103.7 634.4 L1103.7 635.1 L1103.7 635.8 L1103.7 636.7 L1103.8 637.6 L1103.8 638.5 L1103.8 639.5 L1103.7 640.6 L1103.7 641.7 L1103.8 642.9 L1103.8 644.3 L1103.9 645.7 L1104 647.3 L1104.2 648.9 L1104.3 650.7 L1104.5 652.6 L1104.7 654.6 L1104.9 656.2 L1105.1 657.9 L1105.3 659.6 L1105.5 661.2 L1105.7 662.9 L1105.9 664.5 L1106.2 666.1 L1106.4 667.6 L1106.6 669.2 L1106.9 670.6 L1107.2 672.1 L1107.5 673.5 L1107.9 675 L1108.3 676.4 L1108.8 677.8 L1109.3 679.1 L1109.8 680.5 L1110.3 681.9 L1110.8 683.3" fill="none" stroke="#f00" stroke-width="4.4" stroke-linecap="round" stroke-linejoin="round"/>
<path d="M1110.8 683.3 L1110 681.4 L1109.2 679.6 L1108.5 677.7 L1107.7 675.8 L1107 673.8 L1106.3 671.9 L1105.6 669.9 L1104.9 667.9 L1104.3 665.9 L1103.6 663.9 L1103 661.9 L1102.4 659.9 L1101.9 657.8 L1101.3 655.8 L1100.8 653.8 L1100.1 651.8 L1099.5 649.9 L1098.7 648.1 L1097.8 646.4 L1096.6 644.4 L1095.2 642.4 L1093.9 640.4 L1092.6 638.4 L1091.5 636.5 L1090.4 634.5 L1089.5 632.6 L1088.6 630.7 L1087.9 629 L1087.1 627.4 L1086.5 626 L1085.9 624.6 L1085.3 623.5 L1084.7 622.3 L1084.2 621.3 L1083.7 620.4 L1083.3 619.6 L1082.9 618.9 L1082.6 618.3 L1082.3 617.8 L1082 617.4 L1081.8 617.1 L1081.5 616.9 L1081.4 616.8 L1081.2 616.8 L1081.1 616.9 L1081 617.1 L1081 617.4 L1081.1 617.8 L1081.2 618.3 L1081.3 618.9 L1081.5 619.5 L1081.8 620.3 L1082.1 621.2 L1082.4 622.1 L1082.8 623.2 L1083.2 624.4 L1083.7 625.6 L1084.1 627 L1084.7 628.5 L1085.3 630.1 L1086 631.9 L1086.7 633.7 L1087.6 635.6 L1088.6 637.5 L1089.7 639.3 L1090.8 641.2 L1092.1 643 L1093.4 644.7 L1094.5 646.6 L1095.2 648.3 L1095.8 650.1 L1096.3 652 L1096.8 653.9 L1097.2 655.9 L1097.7 657.9 L1098.3 660 L1099 662 L1099.7 664.1 L1100.6 666.1 L1101.6 668.1 L1102.6 670.1 L1103.8 672 L1105 674 L1106.2 675.8 L1107.4 677.7 L1108.6 679.6 L1109.7 681.4 L1110.8 683.3" fill="none" stroke="#f00" stroke-width="4.4" stroke-linecap="round" stroke-linejoin="round"/>
<path d="M1055 683 L1051 675 L1050.5 670 L1054 666.5 L1075 667 L1090 672 L1104.8 681" fill="none" stroke="#f00" stroke-width="5" stroke-linecap="round" stroke-linejoin="round"/>
<path d="M1097 642 L1101 614 L1107 640 L1109.8 683 L1100 672Z" fill="#f00" stroke="#f00" stroke-width="3" stroke-linejoin="round"/>
<path d="M521.00 683.30 A589.75 589.75 0 0 1 1110.75 93.55 A589.75 589.75 0 0 1 1700.50 683.30 Z" fill="none" stroke="#000" stroke-width="6" stroke-linejoin="miter"/>
<rect x="980.4" y="686.3" width="265" height="52.9" fill="url(#gbox)" stroke="#000" stroke-width="5.6" stroke-linejoin="round"/>
<path d="M1033.4 686.3V739.2M1086.4 686.3V739.2M1139.4 686.3V739.2M1192.4 686.3V739.2" stroke="#000" stroke-width="5.6"/>
<path d="M747.2 295.6 L760.1 282.7 L773.5 270.3 L787.4 258.5 L801.7 247.1 L816.4 236.3 L831.5 226 L847 216.3 L862.9 207.2 L879.1 198.7 L895.5 190.8 L912.3 183.5 L929.4 176.9 L946.6 170.9 L964.1 165.6 L981.8 160.9 L999.6 156.9 L1017.6 153.5 L1035.7 150.9 L1053.9 148.9 L1072.1 147.6 L1090.4 146.9 L1108.7 147 L1127 147.8 L1145.2 149.2 L1163.4 151.3 L1181.5 154.1 L1199.5 157.6 L1217.3 161.7 L1235 166.5 L1252.4 172 L1269.7 178.1 L1286.7 184.9 L1303.4 192.3 L1319.9 200.3 L1336.1 208.9 L1351.9 218.1 L1367.3 228 L1382.4 238.3 L1397.1 249.3 L1393.2 254.3 L1378.7 243.5 L1363.9 233.2 L1348.6 223.4 L1333.1 214.3 L1317.1 205.7 L1300.9 197.7 L1284.4 190.3 L1267.6 183.6 L1250.6 177.5 L1233.3 172 L1215.9 167.2 L1198.3 163 L1180.5 159.6 L1162.7 156.7 L1144.7 154.6 L1126.7 153.1 L1108.6 152.3 L1090.5 152.1 L1072.4 152.7 L1054.3 153.9 L1036.3 155.8 L1018.4 158.4 L1000.6 161.6 L982.9 165.6 L965.4 170.1 L948.1 175.4 L930.9 181.2 L914 187.7 L897.4 194.9 L881 202.6 L865 211 L849.2 220 L833.8 229.5 L818.8 239.6 L804.1 250.3 L789.9 261.5 L776.1 273.3 L762.8 285.5 L749.9 298.3Z" fill="#c0504d"/>
<path d="M1408 231 L1376 269 L1425.5 277.5 Z" fill="#c0504d"/>
<path d="M2704.15 679.70 L2148.77 463.81 A589.75 589.75 0 0 1 3250.68 482.56 Z" fill="url(#gR)"/>
<g fill="none" stroke="#000" stroke-width="5" stroke-linecap="round" stroke-dasharray="0 16.6">
<path d="M2197.9 400.3 L2696.2 683.3"/>
<path d="M2409.7 187.1 L2696.2 683.3"/>
<path d="M2696.2 107.6 L2696.2 683.3"/>
<path d="M2982.7 187.1 L2696.2 683.3"/>
<path d="M3191.9 395.9 L2696.2 683.3"/>
<path d="M2317.65 683.30 A382.30 384.50 0 0 1 2699.95 298.80 A382.30 384.50 0 0 1 3082.25 683.30" stroke-dashoffset="5.5"/>
</g>
<path d="M2696.2 683.3 L2693.3 682.1 L2690.3 680.8 L2687.3 679.5 L2684.4 678.2 L2681.5 677 L2678.7 675.8 L2676 674.8 L2673.4 673.8 L2670.9 672.9 L2668.3 672.1 L2665.7 671.2 L2663 670.2 L2660 669.2 L2656.8 668.2 L2653.6 667.1 L2650.4 666 L2647.3 664.9 L2644.4 663.8 L2641.7 662.7 L2638.7 661.5 L2635.8 660.4 L2632.9 659.5 L2629.9 658.8 L2626.8 658.2 L2623.5 657.8 L2620.3 657.6 L2617.2 657.3 L2614.3 657 L2611.7 656.7 L2609.3 656.3 L2607.2 656 L2605.3 655.7 L2603.6 655.3 L2602.1 655 L2600.7 654.8 L2599.4 654.6 L2598.2 654.4 L2597.2 654.3 L2596.3 654.2 L2595.6 654.2 L2595.1 654.2 L2594.6 654.3 L2594.3 654.5 L2594.2 654.7 L2594.2 655 L2594.3 655.3 L2594.6 655.6 L2595.1 655.9 L2595.7 656.3 L2596.5 656.6 L2597.4 657 L2598.5 657.5 L2599.7 658 L2601 658.5 L2602.4 659.1 L2604 659.8 L2605.7 660.5 L2607.7 661.2 L2610 662 L2612.5 662.9 L2615.4 663.7 L2618.5 664.6 L2622 665.6 L2625.6 666.6 L2629.2 667.5 L2632.6 668.4 L2635.9 669.3 L2639 670.1 L2642 671.1 L2644.3 671.9 L2646.7 672.9 L2649 674.1 L2651.5 675.5 L2654.1 677.1 L2656.9 678.6 L2659.8 679.7 L2662.8 680.5 L2665.8 681 L2669 681.3 L2672.1 681.3 L2675.2 681.4 L2678.3 681.4 L2681.4 681.5 L2684.4 681.7 L2687.4 682 L2690.3 682.4 L2693.2 682.9 L2696.2 683.3" fill="none" stroke="#f00" stroke-width="4.4" stroke-linecap="round" stroke-linejoin="round" stroke-dasharray="23 10"/>
<path d="M2696.2 683.3 L2693.1 681.1 L2690 678.9 L2687 676.8 L2684.1 674.6 L2681.1 672.6 L2678.2 670.5 L2675.3 668.6 L2672.3 666.8 L2669.5 665.1 L2666.6 663.6 L2663.8 662.2 L2660.9 660.8 L2657.8 659.4 L2654.6 657.9 L2651.1 656.3 L2647.4 654.6 L2643.6 652.7 L2639.8 650.8 L2636.1 648.8 L2631.7 646.5 L2627.8 644.3 L2624.1 642.2 L2620.7 640.4 L2617.4 638.7 L2614.2 637.1 L2611.1 635.7 L2608 634.3 L2605 633.1 L2602.2 631.9 L2599.4 630.8 L2596.9 629.7 L2594.7 628.8 L2592.6 628 L2590.8 627.3 L2589.2 626.6 L2587.8 626.1 L2586.4 625.6 L2585.3 625.3 L2584.3 625 L2583.5 624.8 L2582.8 624.8 L2582.3 624.8 L2582 625 L2581.7 625.3 L2581.7 625.6 L2581.8 626 L2582.1 626.5 L2582.6 627 L2583.3 627.6 L2584.2 628.3 L2585.2 629 L2586.5 629.9 L2587.9 630.8 L2589.5 631.9 L2591.4 633.1 L2593.5 634.4 L2595.7 635.6 L2598 636.9 L2600.3 638.1 L2602.7 639.2 L2605 640.2 L2607.2 641.3 L2609.4 642.7 L2611.8 644.7 L2614.4 646.9 L2617.4 649.4 L2620.9 651.9 L2625.1 654.1 L2629.8 656 L2633.7 657.4 L2637.6 658.7 L2641.1 660.3 L2644.1 662 L2646.9 663.8 L2649.6 665.7 L2652.3 667.4 L2655.2 669 L2658.6 670.3 L2662.4 671.6 L2666.2 673 L2670.2 674.5 L2674.1 676.1 L2678 677.7 L2681.8 679.2 L2685.5 680.4 L2689.1 681.4 L2692.6 682.3 L2696.2 683.3" fill="none" stroke="#f00" stroke-width="4.4" stroke-linecap="round" stroke-linejoin="round"/>
<path d="M2696.2 683.3 L2694.6 681.7 L2693 680 L2691.5 678.4 L2690 676.8 L2688.4 675.3 L2686.9 673.7 L2685.3 672.2 L2683.6 670.8 L2681.9 669.4 L2680.2 667.9 L2678.4 666.5 L2676.7 665 L2674.9 663.5 L2673.1 661.9 L2671.3 660.4 L2669.4 658.8 L2667.5 657.3 L2665.7 655.7 L2663.8 654.2 L2661.5 652.4 L2659.4 650.8 L2657.4 649.3 L2655.5 648 L2653.6 646.8 L2651.9 645.6 L2650.2 644.5 L2648.6 643.4 L2647 642.3 L2645.4 641.3 L2643.9 640.3 L2642.5 639.3 L2641.2 638.4 L2639.9 637.6 L2638.8 636.9 L2637.8 636.3 L2636.9 635.7 L2636.1 635.2 L2635.4 634.8 L2634.8 634.5 L2634.3 634.3 L2633.8 634.2 L2633.5 634.1 L2633.2 634.1 L2633 634.3 L2632.9 634.5 L2632.9 634.7 L2633 635 L2633.2 635.4 L2633.4 635.8 L2633.8 636.2 L2634.3 636.7 L2634.9 637.3 L2635.5 637.9 L2636.2 638.6 L2637.1 639.4 L2637.9 640.2 L2638.9 641 L2639.9 641.8 L2641.1 642.7 L2642.4 643.6 L2643.9 644.6 L2645.6 645.6 L2647.4 646.6 L2649.4 647.8 L2651.4 649.1 L2653.4 650.6 L2655.2 652.4 L2657 654.5 L2658.8 656.7 L2660.2 658.5 L2661.8 660.3 L2663.5 662.1 L2665.3 663.8 L2667.4 665.3 L2669.5 666.8 L2671.7 668.2 L2673.8 669.6 L2676 671 L2678 672.4 L2680.1 673.8 L2682 675.1 L2684 676.4 L2685.9 677.7 L2687.9 678.9 L2689.9 680 L2692 681.1 L2694.1 682.2 L2696.2 683.3" fill="none" stroke="#f00" stroke-width="4.4" stroke-linecap="round" stroke-linejoin="round"/>
<path d="M2696.2 683.3 L2694.2 680.1 L2692.6 676.7 L2691.2 673.1 L2689.8 669.7 L2688.3 666.5 L2686.7 663.5 L2684.8 660.8 L2682.7 658.3 L2680.4 655.8 L2678.1 653.2 L2675.7 650.2 L2673.2 646.9 L2670.8 643.6 L2668.2 640.3 L2665.6 637.3 L2662.9 634.6 L2660.3 632.1 L2657.7 629.7 L2655.4 627.2 L2653 624.1 L2651.1 620.9 L2649.4 617.6 L2647.4 614.3 L2645.2 611 L2642.6 607.9 L2639.7 604.8 L2636.6 602.3 L2633.7 600.1 L2631.1 598.2 L2628.9 596.5 L2627 595 L2625.3 593.7 L2623.8 592.5 L2622.4 591.4 L2621.2 590.4 L2620.1 589.4 L2619.1 588.5 L2618.2 587.8 L2617.5 587.2 L2616.8 586.7 L2616.2 586.4 L2615.7 586.2 L2615.3 586.2 L2615 586.4 L2614.8 586.7 L2614.8 587.1 L2614.9 587.6 L2615.1 588.3 L2615.5 589.1 L2616 590 L2616.6 591 L2617.4 592.2 L2618.3 593.6 L2619.3 595 L2620.5 596.6 L2621.7 598.4 L2623 600.3 L2624.4 602.5 L2625.7 604.8 L2626.9 607.4 L2628.2 610 L2629.5 612.8 L2631.2 615.4 L2633.5 617.9 L2636.2 620.3 L2639.4 622.6 L2642.8 625 L2646.1 627.5 L2649 630.3 L2651.2 632.8 L2653.2 635.4 L2655.2 638.2 L2657.4 641.2 L2659.7 644.2 L2662.1 647.4 L2664.7 650.6 L2667.4 653.8 L2670 657 L2672.6 660.1 L2675.1 663.1 L2677.5 665.9 L2679.9 668.5 L2682.4 671 L2685 673.4 L2687.6 675.8 L2690.4 678.2 L2693.3 680.7 L2696.2 683.3" fill="none" stroke="#f00" stroke-width="4.4" stroke-linecap="round" stroke-linejoin="round"/>
<path d="M2696.2 683.3 L2695.3 681.4 L2694.6 679.5 L2693.8 677.5 L2693.1 675.6 L2692.3 673.7 L2691.4 671.8 L2690.5 670 L2689.3 668.2 L2688.2 666.4 L2686.9 664.7 L2685.6 662.9 L2684.2 661.1 L2682.8 659.3 L2681.4 657.5 L2680 655.6 L2678.7 653.6 L2677.4 651.5 L2676.2 649.4 L2675.2 647.2 L2674 644.4 L2673 641.8 L2671.9 639.5 L2670.9 637.4 L2669.8 635.5 L2668.7 633.8 L2667.6 632.2 L2666.6 630.8 L2665.5 629.5 L2664.5 628.3 L2663.6 627.2 L2662.7 626.2 L2661.8 625.2 L2661 624.2 L2660.3 623.4 L2659.7 622.6 L2659.1 621.9 L2658.5 621.3 L2658.1 620.8 L2657.6 620.4 L2657.3 620.1 L2656.9 619.8 L2656.6 619.7 L2656.4 619.7 L2656.2 619.7 L2656.1 619.9 L2656 620.1 L2656 620.4 L2656.1 620.8 L2656.2 621.3 L2656.4 621.9 L2656.7 622.6 L2657 623.4 L2657.4 624.2 L2657.8 625.2 L2658.3 626.2 L2658.8 627.4 L2659.3 628.7 L2659.8 630.1 L2660.4 631.6 L2661.1 633.1 L2662 634.7 L2662.9 636.3 L2664.1 638 L2665.3 639.6 L2666.8 641.2 L2668.5 642.8 L2670.2 644.5 L2672 646.3 L2673.7 648.4 L2674.8 650.3 L2675.9 652.3 L2676.8 654.4 L2677.7 656.4 L2678.6 658.5 L2679.5 660.5 L2680.5 662.5 L2681.5 664.4 L2682.5 666.3 L2683.6 668.1 L2684.8 669.9 L2686 671.7 L2687.4 673.4 L2688.8 675.1 L2690.3 676.7 L2691.8 678.4 L2693.3 680 L2694.8 681.7 L2696.2 683.3" fill="none" stroke="#f00" stroke-width="4.4" stroke-linecap="round" stroke-linejoin="round"/>
<path d="M2696.2 683.3 L2695.3 680.2 L2694.4 677.5 L2693.6 674.8 L2692.8 672.1 L2691.9 669.3 L2691.2 666.4 L2690.3 663.4 L2689.5 660.3 L2688.6 657 L2687.7 653.7 L2686.8 650.3 L2685.8 647.1 L2684.7 644 L2683.5 641.2 L2682.1 638.5 L2680.6 635.9 L2679.1 633.4 L2677.5 631 L2675.9 628.5 L2674 625.4 L2672.2 622.3 L2670.7 619.2 L2669.5 616 L2668.4 612.8 L2667.5 609.6 L2666.5 606.6 L2665.5 603.9 L2664.4 601.5 L2663.2 599.4 L2662 597.4 L2660.8 595.7 L2659.7 594 L2658.7 592.5 L2657.7 591.1 L2656.9 589.8 L2656.2 588.7 L2655.5 587.7 L2654.9 586.8 L2654.4 586.1 L2653.9 585.6 L2653.4 585.2 L2653 584.9 L2652.7 584.8 L2652.4 584.8 L2652.1 585 L2652 585.3 L2651.9 585.7 L2651.9 586.3 L2651.9 587 L2652.1 587.8 L2652.3 588.8 L2652.6 589.8 L2653 591 L2653.3 592.3 L2653.8 593.7 L2654.2 595.2 L2654.7 596.9 L2655.4 598.6 L2656.1 600.6 L2657.1 602.8 L2658.4 605.2 L2659.9 608 L2661.6 611.1 L2663.3 614.4 L2664.7 617.8 L2665.8 621 L2666.7 624 L2667.5 627.1 L2668.3 630.2 L2669.3 632.9 L2670.5 635.8 L2672.1 638.8 L2673.7 641.9 L2675.4 645.1 L2676.9 648.3 L2678.2 651.3 L2679.1 654.2 L2679.9 657 L2680.8 659.7 L2681.8 662.4 L2683.1 664.9 L2684.7 667.5 L2686.6 670 L2688.7 672.5 L2690.7 675.1 L2692.7 677.7 L2694.5 680.5 L2696.2 683.3" fill="none" stroke="#f00" stroke-width="4.4" stroke-linecap="round" stroke-linejoin="round"/>
<path d="M2696.2 683.3 L2696 681.2 L2695.9 679 L2695.8 676.9 L2695.8 674.7 L2695.7 672.6 L2695.6 670.5 L2695.4 668.4 L2695.2 666.4 L2694.9 664.4 L2694.6 662.4 L2694.4 660.5 L2694.1 658.6 L2693.8 656.7 L2693.4 654.8 L2693 652.9 L2692.6 651.1 L2692.1 649.2 L2691.5 647.3 L2690.8 645.5 L2689.8 643.1 L2688.9 640.8 L2688 638.6 L2687.2 636.4 L2686.5 634.3 L2685.9 632.3 L2685.3 630.4 L2684.9 628.7 L2684.5 627 L2684.2 625.5 L2683.9 624 L2683.7 622.7 L2683.5 621.5 L2683.1 620.4 L2682.8 619.4 L2682.5 618.4 L2682.2 617.6 L2682 616.9 L2681.8 616.3 L2681.5 615.8 L2681.3 615.4 L2681.1 615.1 L2680.9 614.9 L2680.7 614.8 L2680.6 614.8 L2680.4 614.8 L2680.3 615 L2680.2 615.3 L2680.1 615.7 L2680.1 616.2 L2680.1 616.8 L2680.2 617.5 L2680.3 618.3 L2680.4 619.2 L2680.5 620.2 L2680.7 621.3 L2680.9 622.6 L2681 624 L2681.1 625.5 L2681.3 627.2 L2681.6 629 L2681.9 631 L2682.2 633.1 L2682.6 635.2 L2683.1 637.3 L2683.5 639.4 L2684 641.4 L2684.4 643.4 L2684.9 645.2 L2685.4 647 L2685.8 648.4 L2686.2 650 L2686.6 651.7 L2686.9 653.6 L2687.3 655.6 L2687.7 657.7 L2688.2 659.7 L2688.7 661.8 L2689.1 663.9 L2689.7 666 L2690.2 668 L2690.9 669.9 L2691.6 671.8 L2692.4 673.7 L2693.1 675.6 L2694 677.5 L2694.8 679.4 L2695.5 681.3 L2696.2 683.3" fill="none" stroke="#f00" stroke-width="4.4" stroke-linecap="round" stroke-linejoin="round"/>
<path d="M2696.2 683.3 L2696.8 681.2 L2697.4 679.2 L2698.2 677.4 L2698.9 675.6 L2699.6 673.7 L2700.2 671.7 L2700.7 669.6 L2701.1 667.4 L2701.5 665 L2701.8 662.4 L2702.1 659.8 L2702.3 657 L2702.6 654.1 L2702.8 651.3 L2703 648.4 L2703.3 645.7 L2703.6 643.2 L2703.9 640.8 L2704.3 638.9 L2704.7 636.8 L2705.2 635.1 L2705.6 633.5 L2705.9 631.9 L2706.2 630.3 L2706.4 628.6 L2706.6 626.8 L2706.7 625.1 L2706.8 623.4 L2706.9 621.8 L2707 620.2 L2707 618.7 L2707.1 617.3 L2707.1 616 L2707.1 614.9 L2707.2 613.9 L2707.2 612.9 L2707.2 612.1 L2707.2 611.4 L2707.1 610.8 L2707.1 610.3 L2707 609.9 L2706.8 609.6 L2706.7 609.4 L2706.5 609.3 L2706.3 609.3 L2706.1 609.5 L2705.9 609.7 L2705.7 610 L2705.5 610.5 L2705.3 611.1 L2705.1 611.7 L2704.9 612.5 L2704.6 613.4 L2704.3 614.4 L2704 615.4 L2703.7 616.6 L2703.2 618 L2702.7 619.4 L2702.2 620.9 L2701.5 622.6 L2700.8 624.3 L2699.9 626.3 L2699 628.4 L2697.9 630.6 L2696.8 633 L2695.8 635.5 L2695 638.1 L2694.7 640.7 L2695 643.1 L2695.7 645 L2696.6 646.9 L2697.5 648.7 L2698.3 650.7 L2698.9 652.7 L2699.3 654.8 L2699.4 657 L2699.3 659.3 L2699 661.7 L2698.5 664.1 L2698 666.5 L2697.4 668.8 L2697 671 L2696.7 673.2 L2696.5 675.3 L2696.4 677.3 L2696.3 679.3 L2696.2 681.3 L2696.2 683.3" fill="none" stroke="#f00" stroke-width="4.4" stroke-linecap="round" stroke-linejoin="round"/>
<path d="M2696.2 683.3 L2697.9 680.4 L2699.8 677.7 L2701.8 675 L2703.8 672.4 L2705.6 669.7 L2707.3 667 L2708.7 664.3 L2709.9 661.4 L2711 658.5 L2712.1 655.5 L2713.3 652.6 L2714.7 649.7 L2716.3 646.7 L2718 643.9 L2719.6 641 L2721.2 638.1 L2722.6 635.2 L2723.7 632.3 L2724.6 629.3 L2725.5 625.7 L2726.2 622.2 L2726.9 618.8 L2727.5 615.5 L2728.3 612.3 L2729.2 609.4 L2730.3 606.6 L2731.5 604 L2732.7 601.7 L2733.9 599.5 L2735 597.4 L2736 595.4 L2736.9 593.6 L2737.6 591.9 L2738.2 590.3 L2738.7 588.9 L2739.1 587.6 L2739.5 586.4 L2739.8 585.4 L2740 584.6 L2740.1 583.8 L2740.2 583.2 L2740.1 582.8 L2740 582.5 L2739.7 582.3 L2739.4 582.2 L2739.1 582.3 L2738.7 582.6 L2738.3 583 L2737.9 583.6 L2737.4 584.3 L2736.8 585.2 L2736.2 586.2 L2735.6 587.4 L2734.9 588.7 L2734.2 590.1 L2733.5 591.8 L2732.7 593.5 L2731.9 595.4 L2731 597.5 L2730.1 599.7 L2729.2 602.1 L2728.3 604.7 L2727.2 607.4 L2725.8 610.2 L2724.1 612.9 L2722.2 615.7 L2720 618.6 L2717.8 621.7 L2715.6 625 L2713.9 628 L2712.4 631.1 L2710.9 634.4 L2709.6 637.7 L2708.2 641 L2706.9 644.2 L2705.8 647.4 L2704.7 650.3 L2703.6 653.1 L2702.6 655.9 L2701.7 658.6 L2700.8 661.3 L2700.1 664 L2699.5 666.9 L2698.9 670 L2698.4 673.2 L2697.8 676.6 L2697 680 L2696.2 683.3" fill="none" stroke="#f00" stroke-width="4.4" stroke-linecap="round" stroke-linejoin="round"/>
<path d="M2696.2 683.3 L2697.6 681.8 L2699 680.3 L2700.4 678.9 L2701.8 677.4 L2703.2 675.9 L2704.5 674.4 L2705.8 672.9 L2707 671.3 L2708.1 669.7 L2709.3 668.1 L2710.4 666.5 L2711.6 664.9 L2712.7 663.3 L2713.9 661.7 L2715 660.1 L2716.2 658.5 L2717.3 656.9 L2718.5 655.2 L2719.7 653.6 L2721.1 651.6 L2722.5 649.5 L2723.8 647.6 L2725 645.7 L2726.1 643.9 L2727.1 642.2 L2728 640.6 L2728.9 639.1 L2729.8 637.6 L2730.5 636.3 L2731.2 634.9 L2731.9 633.7 L2732.5 632.6 L2733 631.6 L2733.5 630.6 L2734 629.8 L2734.4 629 L2734.7 628.4 L2735 627.8 L2735.2 627.2 L2735.4 626.8 L2735.5 626.4 L2735.5 626.1 L2735.4 625.9 L2735.3 625.8 L2735.1 625.7 L2734.9 625.7 L2734.6 625.9 L2734.3 626.1 L2734 626.4 L2733.6 626.7 L2733.1 627.2 L2732.6 627.8 L2732 628.4 L2731.4 629.1 L2730.8 629.9 L2730 630.8 L2729.2 631.7 L2728.4 632.8 L2727.5 633.9 L2726.5 635.1 L2725.4 636.4 L2724.3 637.8 L2723 639.4 L2721.6 641.2 L2720 643.2 L2718.3 645.6 L2716.4 648.2 L2714.5 651 L2712.9 653.7 L2711.8 655.5 L2710.8 657.1 L2710.1 658.5 L2709.5 659.8 L2708.9 660.8 L2708.4 661.9 L2707.8 662.9 L2707.1 664.1 L2706.4 665.3 L2705.5 666.6 L2704.5 668.1 L2703.4 669.8 L2702.2 671.6 L2701.1 673.5 L2700 675.5 L2699 677.5 L2698 679.5 L2697 681.4 L2696.2 683.3" fill="none" stroke="#f00" stroke-width="4.4" stroke-linecap="round" stroke-linejoin="round"/>
<path d="M2696.2 683.3 L2698.5 681.7 L2701.1 680.2 L2703.7 678.7 L2706.2 677.2 L2708.7 675.6 L2711.1 674.1 L2713.4 672.5 L2715.4 670.8 L2717.3 669 L2719.1 667.2 L2720.8 665.4 L2722.4 663.6 L2724.1 661.6 L2725.8 659.6 L2727.6 657.6 L2729.6 655.6 L2731.7 653.7 L2733.8 651.8 L2736.1 650.1 L2738.9 648.3 L2741.7 646.7 L2744.4 645.3 L2747 643.9 L2749.2 642.3 L2751.3 640.5 L2753.1 638.7 L2754.7 636.7 L2756.1 634.8 L2757.5 633 L2758.7 631.3 L2759.9 629.8 L2761 628.3 L2762.1 627.1 L2763 625.9 L2763.9 624.9 L2764.7 624 L2765.4 623.2 L2766 622.5 L2766.5 621.9 L2766.8 621.4 L2767.1 620.9 L2767.2 620.5 L2767.2 620.2 L2767.1 620 L2766.9 619.9 L2766.6 619.8 L2766.2 619.9 L2765.7 620.1 L2765.2 620.4 L2764.6 620.8 L2763.9 621.3 L2763 621.9 L2762.1 622.6 L2761.1 623.4 L2760.1 624.3 L2759 625.3 L2757.9 626.4 L2756.6 627.6 L2755.2 628.8 L2753.7 630 L2752 631.3 L2750.2 632.6 L2748.2 633.9 L2746 635.2 L2743.7 636.5 L2741.1 638.2 L2738.6 640 L2736 641.9 L2733.3 644.1 L2731.1 646 L2728.9 647.9 L2726.6 649.9 L2724.4 651.8 L2722.2 653.9 L2720.1 656 L2718 658.1 L2716 660.2 L2714.1 662.2 L2712.2 664.3 L2710.3 666.3 L2708.5 668.4 L2706.7 670.5 L2705 672.6 L2703.2 674.7 L2701.5 676.9 L2699.8 679.1 L2698 681.2 L2696.2 683.3" fill="none" stroke="#f00" stroke-width="4.4" stroke-linecap="round" stroke-linejoin="round" stroke-dasharray="19 10"/>
<path d="M2696.2 683.3 L2699.2 681.7 L2702.2 679.9 L2705.3 678.2 L2708.2 676.6 L2711.1 675.1 L2713.8 673.8 L2716.4 672.6 L2718.9 671.5 L2721.4 670.4 L2723.8 669.3 L2726.3 668.1 L2728.9 666.5 L2731.7 664.6 L2734.7 662.4 L2737.6 660.1 L2740.4 657.8 L2743.2 655.7 L2745.8 653.8 L2748.3 651.9 L2751.4 649.8 L2754.5 647.8 L2757.6 645.9 L2760.7 644 L2763.7 642.1 L2766.6 640.3 L2769.2 638.3 L2771.5 636.4 L2773.5 634.6 L2775.3 632.9 L2777 631.3 L2778.6 629.8 L2780.1 628.5 L2781.6 627.3 L2782.9 626.3 L2784.1 625.3 L2785.1 624.4 L2786 623.6 L2786.8 622.9 L2787.5 622.3 L2788 621.7 L2788.3 621.3 L2788.6 620.9 L2788.6 620.5 L2788.6 620.3 L2788.4 620.1 L2788 620.1 L2787.6 620.1 L2787 620.3 L2786.3 620.6 L2785.5 621 L2784.6 621.4 L2783.6 622 L2782.4 622.7 L2781.1 623.5 L2779.6 624.3 L2778.1 625.2 L2776.4 626.3 L2774.6 627.4 L2772.8 628.7 L2770.8 630 L2768.7 631.5 L2766.5 633 L2764.2 634.8 L2761.6 636.6 L2758.7 638.6 L2755.6 640.7 L2752.3 642.9 L2748.8 645.2 L2745.2 647.6 L2742.2 649.4 L2739.2 651.1 L2736.2 652.7 L2733.3 654.1 L2730.5 655.2 L2727.7 656 L2725.1 656.8 L2722.6 657.8 L2720.2 659.2 L2717.8 661 L2715.4 663.2 L2713 665.8 L2710.6 668.6 L2708.3 671.4 L2705.9 674.1 L2703.5 676.7 L2701.1 679.1 L2698.7 681.2 L2696.2 683.3" fill="none" stroke="#f00" stroke-width="4.4" stroke-linecap="round" stroke-linejoin="round"/>
<path d="M2696.2 683.3 L2699.6 682.5 L2703 681.6 L2706.4 680.6 L2709.7 679.7 L2713.1 678.8 L2716.4 678.1 L2719.6 677.4 L2722.9 676.8 L2726.2 676.2 L2729.4 675.5 L2732.8 674.6 L2736.1 673.5 L2739.3 672.1 L2742.4 670.7 L2745.4 669.2 L2748.1 667.7 L2750.7 666.6 L2753 665.6 L2755.3 664.9 L2758.1 664.2 L2761.1 663.5 L2764.4 662.9 L2768 662.2 L2771.8 661.5 L2775.5 660.6 L2779 659.7 L2782.1 658.7 L2784.8 657.7 L2787.1 656.8 L2789.2 655.8 L2791.1 654.9 L2792.8 654.1 L2794.4 653.3 L2795.8 652.7 L2797.2 652.1 L2798.4 651.5 L2799.5 651 L2800.4 650.6 L2801.2 650.2 L2801.8 649.8 L2802.3 649.5 L2802.6 649.2 L2802.7 648.9 L2802.7 648.7 L2802.6 648.5 L2802.3 648.4 L2801.8 648.3 L2801.2 648.3 L2800.5 648.4 L2799.6 648.6 L2798.5 648.8 L2797.3 649.1 L2795.9 649.4 L2794.4 649.7 L2792.6 650.1 L2790.8 650.6 L2788.8 651 L2786.6 651.6 L2784.4 652.1 L2782.2 652.7 L2779.8 653.3 L2777.4 654.1 L2774.9 655.1 L2772.1 656.4 L2769.1 657.9 L2765.8 659.6 L2762.2 661.3 L2758.4 662.7 L2754.3 663.6 L2751 663.9 L2747.6 664 L2744.2 664 L2740.9 664.2 L2737.7 664.8 L2734.6 665.9 L2731.6 667.6 L2728.7 669.4 L2725.8 671.1 L2722.9 672.5 L2719.9 673.6 L2716.9 674.5 L2713.8 675.3 L2710.9 676.3 L2707.9 677.4 L2705 678.7 L2702.1 680.3 L2699.1 681.8 L2696.2 683.3" fill="none" stroke="#f00" stroke-width="4.4" stroke-linecap="round" stroke-linejoin="round" stroke-dasharray="19 10"/>
<path d="M2694.2 557 L2694.7 600 L2695.7 682" fill="none" stroke="#f00" stroke-width="9" stroke-linecap="round" stroke-linejoin="round"/>
<path d="M2690.2 682.3 L2669 670.6 L2676.2 666.6 L2674 654.9 L2683.5 656.1 L2687.4 642.2 L2696.2 647.3 L2704.5 644.2 L2707.5 657.7 L2716.1 655.8 L2714.5 667.9 L2723.1 670.1 L2702.1 682.3Z" fill="#f00" stroke="#f00" stroke-width="4" stroke-linejoin="round"/>
<path d="M2251.2 327.9 L2250 329.8 L2249.3 331.9 L2248.9 334.2 L2249 336.7 L2249.5 339.3 L2250.2 342.3 L2251.5 345.3 L2253.3 348.4 L2255.9 351.5 L2259.2 354.6 L2262.8 358.3 L2266.2 362.9 L2269.5 368.3 L2273.3 374 L2277.9 379.5 L2283 385.2 L2288.1 391.1 L2293.2 397.1 L2298.8 402.4 L2305.2 407.7 L2313 414.8 L2321 423.5 L2327.6 432.1 L2336.6 440.1 L2349.4 447.4 L2354.6 450.9 L2357.9 454.5 L2360.6 458.2 L2364 462.3 L2368.5 466.6 L2373.5 470.9 L2378.5 475 L2383.4 479 L2388.1 482.9 L2392.8 487 L2397.4 491.1 L2401.8 494.9 L2405.7 498 L2409.6 500.8 L2413.8 503.8 L2419 507.5 L2425 511.8 L2431.2 516.2 L2437.1 520.1 L2442.3 523.7 L2446.9 527 L2450.8 530.5 L2454.5 533.9 L2458.8 537.2 L2464.2 540.2 L2470.2 543.3 L2475.9 546.9 L2480.5 551.2 L2484.6 555.7 L2488.9 559.7 L2494.1 562.8 L2499.9 565.6 L2505.7 569.2 L2511.1 574.2 L2516.2 579.7 L2521.3 584.2 L2526.3 587 L2531.5 588.9 L2536.7 591 L2541.9 594.1 L2547 597.6 L2551.7 601.1 L2556.1 604 L2560.5 607.1 L2565.8 610.9 L2572 615.6 L2578.4 620 L2584.1 623.1 L2588.8 624.6 L2593.3 625.7 L2598.3 627.8 L2604 631.1 L2610.1 634.8 L2616.1 638.1 L2621.8 640.6 L2627.3 643 L2632.6 645.8 L2637.7 649.1 L2642.5 652.4 L2647.1 655.4 L2651.7 658.2 L2657 661.4 L2663.2 665.1 L2669.7 668.7 L2675.6 671.8 L2680.6 674.2 L2685.4 676.7 L2690.6 679.8 L2696.2 683.3" fill="none" stroke="#f00" stroke-width="5.6" stroke-linecap="round" stroke-linejoin="round" stroke-dasharray="33 27" stroke-dashoffset="38.2"/>
<path d="M2251.2 327.9 L2252.7 326.3 L2254.4 325.2 L2256.2 324.6 L2258.3 324.5 L2260.5 324.9 L2262.8 325.8 L2265.3 327.2 L2268.1 328.9 L2271.9 330.8 L2276.6 332.8 L2282.3 334.8 L2287.9 337.5 L2293 340.9 L2297.9 344.8 L2303.3 348.8 L2309.4 352.7 L2316.1 356.4 L2323.2 359.9 L2330.8 363.6 L2338.9 368.3 L2347.3 374.4 L2355.8 382.2 L2364.7 389.6 L2374 395.5 L2382.8 402 L2386.8 405.5 L2390.3 408.5 L2393.5 411.2 L2397.2 414 L2401.7 417.6 L2407.2 422.1 L2413 426.8 L2418.4 431.4 L2423.5 435.6 L2428.7 439.6 L2434.3 443.6 L2440.3 447.6 L2446.1 451.5 L2451.3 455.3 L2455.9 459 L2460.3 462.6 L2464.6 466.1 L2469.1 469.6 L2473.7 473.3 L2478.4 477.2 L2483.1 481.2 L2487.8 485.2 L2492.4 489.1 L2496.9 492.7 L2501.3 496.2 L2505.7 499.4 L2510.3 502.7 L2515.3 506.5 L2521 511.2 L2526.7 516.3 L2531.4 521.4 L2534.8 526 L2537.7 530 L2541.7 533.4 L2547.4 536.4 L2553.6 539.3 L2558.8 542.7 L2562.2 547 L2565 551.8 L2568.8 556.8 L2574.4 561.5 L2580.6 566 L2585.8 570.2 L2589.3 574.2 L2592.2 578.2 L2595.8 582.3 L2600.5 586.5 L2605.4 590.7 L2609.5 594.7 L2612.8 598.6 L2615.9 602.8 L2620 607.8 L2625 613.5 L2630.4 619.4 L2635.5 624.8 L2640.1 629.5 L2644.1 633.9 L2647.6 638.2 L2651 642.2 L2654.9 645.8 L2659.8 648.5 L2665.3 651.1 L2670.6 654.5 L2675.1 659.5 L2679.1 665 L2683 670.4 L2687.1 675.2 L2691.5 679.4 L2696.2 683.3" fill="none" stroke="#f00" stroke-width="5.6" stroke-linecap="round" stroke-linejoin="round" stroke-dasharray="33 27" stroke-dashoffset="42.2"/>
<path d="M2403.6 220.1 L2401.8 221.6 L2400.5 223.4 L2399.5 225.5 L2399 227.9 L2398.9 230.7 L2399.1 233.8 L2399.6 237.2 L2400.4 240.8 L2401.2 244.4 L2402.3 248.1 L2403.6 252.1 L2405.1 257.3 L2406.9 263.5 L2408.9 270 L2411.3 275.8 L2414 281.2 L2417.1 287.6 L2420.5 295.9 L2424.2 304.8 L2428.2 312.9 L2431.5 321 L2434.1 329.8 L2439.3 338.8 L2447.6 347.6 L2453 356.4 L2454.6 361 L2456.6 366 L2460 371.3 L2464 376.8 L2467.9 382 L2471.2 386.9 L2474.2 391.7 L2477.3 396.7 L2480.9 402.2 L2484.5 408 L2487.6 413.8 L2489.7 419.3 L2491.6 424.3 L2494.1 428.7 L2498.1 432.4 L2502.9 436.1 L2507.6 440.3 L2511.3 445.7 L2514.2 451.8 L2516.7 457.7 L2519.5 462.7 L2522.8 466.9 L2526.3 471 L2530.1 475.8 L2533.9 481.2 L2537.3 486.6 L2540.4 491.7 L2542.9 496.1 L2545 500.2 L2546.7 504.1 L2548.4 508.1 L2550.9 512.6 L2554.7 518 L2559.9 524.1 L2565.4 530.3 L2570.4 535.9 L2574.5 540.6 L2578.2 544.8 L2581.8 548.7 L2585.4 552.6 L2588.9 556.5 L2592 560.4 L2594.6 564.5 L2597.3 568.9 L2600.5 573.7 L2604.3 579 L2608.5 584.3 L2613.1 589.1 L2617.6 593.3 L2621.8 597.2 L2625.3 601.4 L2628.1 606.1 L2630.8 611.1 L2634.2 616 L2638.7 620.9 L2643.6 625.7 L2648.2 630.7 L2652.2 635.8 L2656.1 640.6 L2660.7 644.8 L2666 648.2 L2671.3 651.5 L2675.3 655.6 L2678.1 660.6 L2680.8 665.8 L2684.4 670.6 L2688.6 674.9 L2692.6 679.1 L2696.2 683.3" fill="none" stroke="#f00" stroke-width="5.6" stroke-linecap="round" stroke-linejoin="round" stroke-dasharray="33 27" stroke-dashoffset="47.2"/>
<path d="M2403.6 220.1 L2405.5 219 L2407.5 218.4 L2409.5 218.4 L2411.6 218.7 L2413.7 219.6 L2415.7 221 L2417.7 222.9 L2420.1 225.4 L2422.9 228.4 L2426.3 231.9 L2430.6 235.6 L2435.2 239.1 L2440 242.6 L2444.9 246.3 L2449.4 250.7 L2453.9 256 L2458.9 261.6 L2464.8 267.4 L2470.3 273.9 L2474.5 281.8 L2479 290 L2485.7 297.1 L2493.1 304.3 L2499.1 312.6 L2503.6 322 L2505.6 327.2 L2508.1 332.6 L2511.4 338.1 L2515.3 343.6 L2519.3 348.9 L2523.1 354 L2526.6 359.1 L2529.8 364.5 L2532.8 370.2 L2535.8 375.9 L2539 380.9 L2542.6 384.6 L2546.4 387.8 L2550.3 391.5 L2553.9 396.9 L2557.2 403.5 L2560 410.2 L2562.5 416.2 L2565 421.3 L2567.8 426 L2571.3 430.7 L2575.2 435.6 L2578.6 440.7 L2580.6 446 L2581.8 451.3 L2583.1 456.6 L2585.9 461.6 L2590 466.3 L2594.4 470.8 L2598 475.2 L2600.6 479.6 L2602.9 484.3 L2605.6 489.6 L2609 495.5 L2612.6 501.4 L2616.1 506.7 L2619.2 511.3 L2622 515.6 L2624.4 520 L2626.6 524.8 L2628.8 529.7 L2631.5 534.8 L2634.4 539.8 L2637.3 545 L2639.5 550.5 L2640.9 556.3 L2642.1 562.5 L2643.7 568.8 L2646.3 575.1 L2649.5 581.2 L2653 586.5 L2656.4 590.9 L2659.6 595.1 L2662.3 599.5 L2664.4 604.8 L2665.9 610.8 L2666.9 617.4 L2667.6 624.3 L2668.4 631.1 L2670 637.3 L2672.8 642.7 L2676.3 647.5 L2680 651.8 L2683.1 656.3 L2685.8 661.2 L2688.4 666.6 L2690.9 672.3 L2693.5 678 L2696.2 683.3" fill="none" stroke="#f00" stroke-width="5.6" stroke-linecap="round" stroke-linejoin="round" stroke-dasharray="33 27" stroke-dashoffset="47.2"/>
<path d="M2591.5 107.6 L2589.7 108.1 L2588.1 109.1 L2586.8 110.6 L2585.7 112.5 L2585 114.7 L2584.4 117.4 L2583.9 120.6 L2583.4 124.5 L2582.6 128.9 L2581.6 134.1 L2580.9 139.8 L2581 146 L2581.9 152.6 L2583.1 159.3 L2583.9 166 L2584.3 172.6 L2584.8 180.1 L2585.5 188.9 L2586.4 198.1 L2587 207.4 L2586.5 217.4 L2586 228 L2588.9 238.4 L2592.7 248.6 L2592.5 259.8 L2592.8 266.3 L2594.6 273.4 L2596.8 280.4 L2598 286.7 L2597.9 292.1 L2597.6 297.1 L2598.5 302.7 L2601 309.1 L2603.7 316 L2605.2 322.7 L2605.3 329.2 L2605.3 335.4 L2606.4 341.2 L2608.6 347 L2611 353.1 L2613.1 359.8 L2614.6 366.8 L2615.8 373.6 L2617 379.7 L2617.9 385.3 L2618.4 391.1 L2618.4 397.4 L2618.2 403.8 L2618.7 410.1 L2619.9 415.8 L2621.5 421.3 L2623.1 427 L2624.4 433 L2625.7 439.4 L2627.5 446.1 L2629.7 453 L2632 459.8 L2633.7 466.3 L2635 472.4 L2636 478.3 L2637.2 483.9 L2638.5 489.4 L2639.9 495.2 L2641.5 501.5 L2643 508.2 L2644.6 514.8 L2646.4 521 L2648.1 527 L2649.7 532.8 L2651.3 538.5 L2653.1 544.5 L2655.3 551.1 L2658 558.1 L2660.5 565 L2662.3 570.9 L2663.2 575.8 L2664.1 580.6 L2665.6 586.1 L2667.9 592.5 L2670.1 599.3 L2671.5 605.7 L2672.3 611.7 L2673.2 617.5 L2674.9 623.3 L2677.2 629 L2679.9 634.5 L2682.3 639.8 L2684.6 645.3 L2686.6 651.7 L2688.3 658.6 L2690.2 665.3 L2692.2 671.5 L2694.3 677.4 L2696.2 683.3" fill="none" stroke="#f00" stroke-width="5.6" stroke-linecap="round" stroke-linejoin="round" stroke-dasharray="33 27" stroke-dashoffset="47.2"/>
<path d="M2591.5 107.6 L2593.4 107.6 L2595.2 108.1 L2596.9 109.1 L2598.6 110.7 L2600.2 112.8 L2601.8 115.4 L2603.3 118.7 L2605 122.2 L2606.8 126.1 L2608.7 130.2 L2610.4 134.8 L2611.9 140.4 L2613.2 146.7 L2614.7 153.3 L2617 159.8 L2619.8 166.8 L2623.1 175.7 L2626.5 185.4 L2629.5 193.7 L2632 200.5 L2634.1 208.3 L2636.8 218.4 L2641.3 230.6 L2643.8 242.5 L2643.4 253.3 L2644.3 259.7 L2646.2 266.6 L2648.3 273.1 L2649.6 278.8 L2650.2 284.1 L2650.7 289.7 L2651.6 296.4 L2653 303.5 L2654.7 310.3 L2656.8 315.9 L2658.5 321 L2659.4 326.2 L2659.3 331.9 L2658.9 338.1 L2659.3 344.7 L2660.8 351.3 L2662.9 357.8 L2664.8 363.9 L2666.2 369.6 L2667.3 375.2 L2668.3 381.2 L2669.3 387.6 L2669.9 394.1 L2670.3 400.5 L2670.6 406.7 L2671.4 412.8 L2673 419.1 L2674.9 425.6 L2676.1 432.2 L2676.1 439 L2675.7 445.7 L2676.4 451.9 L2678.7 457.6 L2681.3 463.2 L2682 469.5 L2680.4 476.8 L2678.3 484.1 L2678.1 490.7 L2680.4 496.2 L2683.8 501.3 L2686.8 506.7 L2688.6 512.7 L2689.3 519.2 L2689 525.9 L2688.3 532.7 L2687.8 539.3 L2688.2 545.5 L2689 551.6 L2689.5 557.6 L2689.1 563.7 L2688.4 570 L2688.6 576.5 L2690.2 583 L2692.3 589.4 L2693.7 595.5 L2693.7 601.2 L2693 607 L2692.7 613.2 L2693.1 620 L2693.9 626.8 L2695 633.1 L2696.1 639.1 L2696.6 645 L2696.1 651.2 L2695.4 657.6 L2695.1 664.1 L2695.2 670.6 L2695.6 676.9 L2696.2 683.3" fill="none" stroke="#f00" stroke-width="5.6" stroke-linecap="round" stroke-linejoin="round" stroke-dasharray="33 27" stroke-dashoffset="47.2"/>
<path d="M2787.3 117 L2785.4 116.9 L2783.6 117.3 L2781.8 118.2 L2780.2 119.5 L2778.4 121.3 L2776.7 123.5 L2775 126 L2773.2 128.8 L2771.4 132.1 L2769.6 136.1 L2767.8 141.5 L2765.9 148.1 L2764.1 155.2 L2763 161.9 L2762.6 167.9 L2761.7 174 L2759 181.6 L2755.1 190.3 L2752 198.9 L2749.7 207.1 L2747.1 215.3 L2744.8 224.1 L2743.4 234.6 L2742.2 247.8 L2740 262.1 L2738.1 268 L2735.9 272.7 L2734.3 277.4 L2734.2 283.1 L2734.8 289.5 L2735 296 L2733.5 301.8 L2730.9 307.1 L2728.4 312.6 L2727.1 318.8 L2726.7 325.5 L2726.5 332.2 L2726 338.5 L2725.2 344.6 L2724.7 350.7 L2724.6 356.7 L2724.5 362.9 L2723.7 369.1 L2721.9 375.4 L2719.6 381.5 L2717.7 387.6 L2716.7 393.4 L2716.4 399.1 L2716.4 405 L2716.4 411 L2716.1 417.2 L2715.4 423.5 L2714.3 429.9 L2713.1 436.3 L2712.1 442.7 L2711.6 449.2 L2711.2 455.4 L2710.7 461.3 L2710.1 466.9 L2709.2 472.8 L2708.1 479.5 L2707 486.9 L2705.9 494 L2705.2 500.1 L2704.7 505.4 L2704.4 510.5 L2704.2 516.2 L2704 522.4 L2703.4 528.7 L2702.3 534.4 L2701.2 539.9 L2700.8 545.9 L2701.4 552.8 L2702.5 560.2 L2702.7 567 L2701.1 572.7 L2698.7 577.6 L2696.7 582.5 L2696.1 588 L2696.8 594.1 L2698.1 600.3 L2699.6 606.6 L2700.8 613.1 L2701.2 620.2 L2700.9 627.6 L2699.9 634.6 L2698.8 640.7 L2697.8 645.7 L2697.2 651.2 L2697.1 657.6 L2697.1 664.7 L2697 671.4 L2696.7 677.5 L2696.2 683.3" fill="none" stroke="#f00" stroke-width="5.6" stroke-linecap="round" stroke-linejoin="round" stroke-dasharray="33 27" stroke-dashoffset="17.8"/>
<path d="M2787.3 117 L2789.1 117.5 L2790.6 118.5 L2791.9 120 L2793 121.9 L2793.6 124.2 L2793.9 127 L2794 130.3 L2793.9 134 L2794 138.2 L2794.7 142.7 L2796.2 147.7 L2797.8 153.3 L2798.8 159.7 L2799.1 166.6 L2798.6 173.6 L2797.7 180.4 L2796.1 187.6 L2794.1 196.6 L2792.4 206.5 L2792.7 215 L2794.5 222.8 L2795.3 233.2 L2793.1 246 L2788.1 259.2 L2787.8 269.8 L2789.3 274.4 L2789.6 279.6 L2787.4 285.9 L2784.2 292.9 L2781.9 299.4 L2781.6 305.2 L2781.9 310.8 L2781.4 316.9 L2779.5 323.8 L2777.2 330.9 L2776 337.2 L2776.1 342.5 L2776.4 347.3 L2775.7 352.1 L2773.7 357.3 L2771.5 363.1 L2770.2 369.5 L2770 376.3 L2770.2 382.9 L2769.8 388.7 L2768.8 394 L2767.7 399.9 L2766.9 407.5 L2766.4 416.1 L2765.6 424.1 L2764 429.6 L2761.6 433.3 L2759.3 436.9 L2757.6 442.2 L2756.5 449 L2755.5 456.2 L2754.4 462.6 L2753.2 468.4 L2752.1 474 L2751.3 479.8 L2750.5 485.9 L2749.5 492.3 L2747.9 498.9 L2745.9 505.3 L2744 511.2 L2742.5 516.2 L2741.3 520.9 L2740.3 525.9 L2739.5 531.6 L2738.5 537.9 L2737.1 544.7 L2735.2 551.9 L2732.7 558.8 L2730 565.2 L2727.3 570.9 L2725 576.1 L2723.6 581.1 L2722.9 586.3 L2721.9 592 L2719.8 598.7 L2716.7 606 L2713.8 613.1 L2712.2 619.3 L2711.7 624.6 L2711.2 629.6 L2709.5 635.1 L2707 641 L2704.5 647.2 L2703 653.2 L2701.9 659.2 L2700.8 665.2 L2699.4 671.3 L2697.8 677.4 L2696.2 683.3" fill="none" stroke="#f00" stroke-width="5.6" stroke-linecap="round" stroke-linejoin="round" stroke-dasharray="33 27" stroke-dashoffset="27.8"/>
<path d="M2976.4 228.6 L2974.2 227.5 L2972 226.8 L2969.8 226.7 L2967.4 227 L2965 227.7 L2962.4 228.9 L2959.9 230.5 L2957.4 232.5 L2954.7 235 L2951.8 238.2 L2948.2 242.3 L2943.9 247 L2939.2 252.1 L2934.4 257 L2930 261.5 L2926.1 265.7 L2922.6 270.1 L2918.7 275 L2912.4 281.2 L2904 288.8 L2897.3 296.7 L2893.7 304.4 L2889.8 312.5 L2883.7 320.8 L2876.1 328.8 L2872.4 333.3 L2869.4 338.6 L2867 344.6 L2864.9 350.7 L2862.6 356.4 L2859.9 361.2 L2856.7 365.6 L2853.2 369.9 L2849.5 374.4 L2846 379 L2843.1 383.4 L2841 387.5 L2839.1 391.6 L2836.5 396 L2832.7 400.9 L2828.1 406.4 L2823.9 411.9 L2820.9 417.2 L2819 422.3 L2817.3 427.5 L2815 432.9 L2811.8 438.4 L2808.2 443.8 L2804.6 448.7 L2801.2 452.9 L2798 457.2 L2795.3 462 L2793 467.7 L2790.8 473.7 L2788.3 479.3 L2785.4 484.1 L2782.3 488.5 L2779.7 492.9 L2777.7 497.6 L2775.8 502.4 L2773.4 506.9 L2769.9 510.9 L2765.8 514.7 L2762 519 L2759.3 524.3 L2757.5 530.4 L2755.8 536.5 L2753.4 542 L2750.6 547 L2747.9 551.9 L2746.2 557.3 L2745.3 563.3 L2744.2 569.5 L2742 575.4 L2738.3 581.1 L2734.4 586.6 L2731.8 592.4 L2730.7 598.4 L2730.1 604.4 L2728.5 610.1 L2725.2 615.2 L2721.3 619.9 L2718.2 624.3 L2716.6 628.6 L2716 633.3 L2715 639 L2713 646 L2710.3 653.2 L2707.7 659.3 L2705.5 664.1 L2703.3 668.4 L2701.1 673 L2698.6 678 L2696.2 683.3" fill="none" stroke="#f00" stroke-width="5.6" stroke-linecap="round" stroke-linejoin="round" stroke-dasharray="33 27" stroke-dashoffset="15.8"/>
<path d="M2976.4 228.6 L2978.3 230 L2979.8 231.7 L2980.9 233.7 L2981.6 236.1 L2982 238.7 L2982 241.6 L2981.6 244.8 L2980.9 248.5 L2979.6 252.8 L2977.5 257.7 L2975.1 262.8 L2973.3 267.7 L2972.8 272.1 L2973.5 276 L2973.6 280.6 L2971.3 286.9 L2966.7 294.7 L2961.8 302.9 L2957.8 310.8 L2953.8 319 L2949.5 327.9 L2945 336.2 L2940.5 343.8 L2935.9 353 L2930.6 363.7 L2927.2 368.4 L2923.7 372.6 L2920.4 376.9 L2917.9 381.9 L2915.8 387.5 L2913.6 393.1 L2910.5 398.4 L2906.5 403 L2902.4 407.4 L2899 412.2 L2896.5 417.3 L2894.4 422.4 L2891.9 427 L2888.7 430.9 L2884.9 434.6 L2881.1 438.9 L2877.5 444.3 L2874.4 450.4 L2871.7 456.5 L2869.4 462.1 L2867.3 466.9 L2864.8 470.8 L2861.4 473.9 L2857.5 476.9 L2853.8 480.8 L2850.9 486.5 L2848.7 493.7 L2846.4 501 L2843.2 507 L2839.1 511.4 L2834.9 515.1 L2831.6 518.9 L2829.4 523.3 L2827.5 527.9 L2825.1 532.1 L2821.8 535.9 L2817.8 539.8 L2813.6 544.4 L2809.5 550.2 L2805.8 556.5 L2802.1 562.6 L2798.7 567.8 L2795.2 572 L2791.6 575.6 L2787.7 578.8 L2783.6 581.9 L2779.7 585.3 L2776.2 589.4 L2773 594.1 L2769.9 598.8 L2766.6 603.3 L2763 607.4 L2759.1 611.8 L2755.1 616.7 L2751 622.1 L2746.5 627.2 L2741.8 631.6 L2736.9 635 L2732 638.1 L2727.4 641.8 L2723.4 646.4 L2719.9 651.6 L2717.2 656.9 L2714.6 661.8 L2711.7 666.4 L2708.2 670.6 L2704.2 674.7 L2700.1 678.8 L2696.2 683.3" fill="none" stroke="#f00" stroke-width="5.6" stroke-linecap="round" stroke-linejoin="round" stroke-dasharray="33 27" stroke-dashoffset="23.8"/>
<path d="M3121.9 360.8 L3120.4 359.2 L3118.6 358 L3116.7 357.3 L3114.4 356.9 L3112.1 357 L3109.4 357.3 L3106.6 357.8 L3103.4 358.1 L3099.9 358.3 L3095.9 358.4 L3091.1 359.8 L3085.8 362.6 L3080.1 366.3 L3074.5 370.4 L3069.2 374.4 L3063.8 377.9 L3057.6 380.6 L3050.4 382.8 L3042.1 385.5 L3033.3 389.5 L3025.2 394.3 L3018.4 399.9 L3011.1 406.5 L3002.7 413.8 L2994 421 L2989.4 424.9 L2984.5 428.9 L2979.1 433.2 L2973.7 437.4 L2968.7 441.3 L2964.3 444.7 L2960.3 447.6 L2956.6 450 L2952.8 452.1 L2948.8 454.1 L2944.4 456.2 L2939.4 458.5 L2934.2 461.4 L2929 464.9 L2924.4 469 L2920.3 473.6 L2916.4 478.5 L2912.4 483.2 L2908.1 487.6 L2903.5 491.3 L2898.5 494.2 L2893.2 496.3 L2888 498.4 L2883.3 501.2 L2879.2 505.1 L2875.3 509.5 L2871.1 513.9 L2866.3 517.8 L2861.2 521.4 L2856.5 525 L2852.5 528.8 L2849 532.8 L2845.3 536.8 L2840.9 540.5 L2835.9 544 L2830.7 547.6 L2825.8 551.5 L2821.1 555.5 L2816.8 559.8 L2812.6 564.1 L2808.6 568.3 L2804.6 572.3 L2800.5 576 L2796.3 579.5 L2792.1 582.9 L2788 586.6 L2784.1 590.8 L2780.3 595.4 L2776.7 600.4 L2773 605.7 L2769.1 610.7 L2764.8 614.9 L2760 617.9 L2755.1 620.4 L2750.5 623.2 L2746.5 626.9 L2742.9 631.3 L2739.5 636.1 L2736.2 641 L2732.8 646 L2729.2 651.2 L2725.5 656.4 L2721.5 661.1 L2717.3 665.1 L2712.9 668.5 L2708.5 671.8 L2704.4 675.4 L2700.4 679.3 L2696.2 683.3" fill="none" stroke="#f00" stroke-width="5.6" stroke-linecap="round" stroke-linejoin="round" stroke-dasharray="33 27" stroke-dashoffset="20.8"/>
<path d="M3121.9 360.8 L3123.1 362.7 L3123.8 364.7 L3124.1 366.9 L3124 369.2 L3123.4 371.7 L3122.4 374.5 L3121.2 377.7 L3119.6 381.2 L3117.6 385.1 L3115 389.1 L3111.6 392.9 L3107.5 396.7 L3102.9 400.8 L3098 405.2 L3093.4 410.2 L3089.3 415.9 L3085.4 421.8 L3080.9 427.1 L3075 431.7 L3067.8 436.2 L3059.6 441.1 L3052.2 446.8 L3045.9 453.5 L3038.6 462.3 L3029.2 471.5 L3024 474.9 L3018.9 477.6 L3014.1 480 L3009.9 482.8 L3006.1 486 L3002.3 489.4 L2998.1 493 L2993.4 496.7 L2988.2 500.3 L2982.8 503.8 L2977.2 507.1 L2972.1 510.5 L2968 513.8 L2964.9 517.3 L2962.2 520.9 L2959 524.7 L2954.5 528.9 L2949.1 533 L2943.2 536.7 L2937.2 539.8 L2931.5 542.5 L2926.4 545.4 L2922 548.9 L2918.2 552.8 L2914.7 556.7 L2910.9 560.1 L2906.7 562.9 L2902.1 565.5 L2897 568.1 L2891.7 570.8 L2886.4 574 L2881.5 577.6 L2876.9 581.6 L2872.4 585.5 L2867.5 588.8 L2862.1 591.3 L2856.6 593.6 L2851.5 596.7 L2847.1 600.9 L2843 605.3 L2838.8 608.6 L2834 610.1 L2828.9 610.9 L2823.6 612.6 L2818.3 616.4 L2813.3 621.7 L2808.5 626.7 L2804 629.8 L2799.8 631.3 L2795.3 632.4 L2790.4 634.4 L2785.1 637.2 L2779.6 640.1 L2774.2 642.4 L2769 643.9 L2764 645.4 L2759.1 647.8 L2754.3 651.2 L2749.3 655.2 L2743.9 659 L2738.1 662.4 L2732.3 665.4 L2726.7 668 L2721.6 670.3 L2716.6 672.7 L2711.5 675.1 L2706.3 677.7 L2701.1 680.4 L2696.2 683.3" fill="none" stroke="#f00" stroke-width="5.6" stroke-linecap="round" stroke-linejoin="round" stroke-dasharray="33 27" stroke-dashoffset="20.8"/>
<path d="M2106.40 683.30 A589.75 589.75 0 0 1 2696.15 93.55 A589.75 589.75 0 0 1 3285.90 683.30 Z" fill="none" stroke="#000" stroke-width="6" stroke-linejoin="miter"/>
<rect x="2565.8" y="686.5" width="265" height="52.7" fill="url(#gbox)" stroke="#000" stroke-width="5.6" stroke-linejoin="round"/>
<path d="M2618.8 686.5V739.2M2671.8 686.5V739.2M2724.8 686.5V739.2M2777.8 686.5V739.2" stroke="#000" stroke-width="5.6"/>
<path d="M2628.2 690 L2624.2 678 L2629.2 669 L2644.2 664 L2660.2 668" fill="none" stroke="#f00" stroke-width="5" stroke-linecap="round" stroke-linejoin="round"/>
<path d="M2636.2 683 L2634.2 674" fill="none" stroke="#f00" stroke-width="5" stroke-linecap="round" stroke-linejoin="round"/>
<text x="1083" y="56.5" font-size="67">0</text>
<text x="1115.8" y="52.5" font-size="69.5">°</text>
<text x="713" y="131.7" font-size="62">−</text>
<text x="746.8" y="136.2" font-size="67">30</text>
<text x="813.8" y="132.2" font-size="69.5">°</text>
<text x="1374.8" y="136.2" font-size="67">30</text>
<text x="1441" y="132.2" font-size="69.5">°</text>
<text x="462.2" y="380.7" font-size="62">−</text>
<text x="497" y="385.2" font-size="67">60</text>
<text x="562.8" y="381.2" font-size="69.5">°</text>
<text x="1640.5" y="383.7" font-size="67">60</text>
<text x="1706.8" y="379.7" font-size="69.5">°</text>
<text x="365.8" y="696.2" font-size="62">−</text>
<text x="400.7" y="700.7" font-size="67">90</text>
<text x="466.7" y="696.7" font-size="69.5">°</text>
<text x="1728.6" y="699.7" font-size="67">90</text>
<text x="1794.6" y="695.7" font-size="69.5">°</text>
<text x="2674" y="56.5" font-size="67">0</text>
<text x="2706.8" y="52.5" font-size="69.5">°</text>
<text x="2304" y="131.7" font-size="62">−</text>
<text x="2337.8" y="136.2" font-size="67">30</text>
<text x="2404.8" y="132.2" font-size="69.5">°</text>
<text x="2965.8" y="136.2" font-size="67">30</text>
<text x="3032" y="132.2" font-size="69.5">°</text>
<text x="2053.2" y="380.7" font-size="62">−</text>
<text x="2088" y="385.2" font-size="67">60</text>
<text x="2153.8" y="381.2" font-size="69.5">°</text>
<text x="3231.5" y="383.7" font-size="67">60</text>
<text x="3297.8" y="379.7" font-size="69.5">°</text>
<text x="1956.8" y="696.2" font-size="62">−</text>
<text x="1991.7" y="700.7" font-size="67">90</text>
<text x="2057.7" y="696.7" font-size="69.5">°</text>
<text x="3319.6" y="699.7" font-size="67">90</text>
<text x="3385.6" y="695.7" font-size="69.5">°</text>
<text x="685.2" y="829.8" font-size="66" letter-spacing="0.32" font-weight="300">发射端窄波束扫描实现宽覆盖</text>
<text transform="translate(827.1 922.3) scale(0.8 1)" font-size="74">(</text>
<text x="848.9" y="922.3" font-size="68">a</text>
<text transform="translate(884.3 922.3) scale(0.8 1)" font-size="74">)</text>
<text x="931.2" y="922.3" font-size="65" letter-spacing="0.30" font-weight="300">相参</text>
<text x="1063.9" y="922.3" font-size="68" letter-spacing="3.19">FDA</text>
<text x="1209.5" y="922.3" font-size="65" letter-spacing="0.35" font-weight="300">发射端</text>
<text transform="translate(582.6 1002) scale(0.8 1)" font-size="74">(</text>
<text x="605.4" y="1002" font-size="68">a</text>
<text transform="translate(641 1002) scale(0.8 1)" font-size="74">)</text>
<text x="687.6" y="1002" font-size="68" letter-spacing="1.86">Coherent</text>
<text x="977" y="1002" font-size="68" letter-spacing="2.29">FDA</text>
<text x="1141.4" y="1002" font-size="68" letter-spacing="3.57">radar</text>
<text x="1321.7" y="1002" font-size="68" letter-spacing="3.29">transmitter</text>
<text x="2297.4" y="829.8" font-size="66" letter-spacing="0.42" font-weight="300">接收端同时多波束实时处理</text>
<text transform="translate(2404.6 922.3) scale(0.8 1)" font-size="74">(</text>
<text x="2432.1" y="922.3" font-size="68">b</text>
<text transform="translate(2465.8 922.3) scale(0.8 1)" font-size="74">)</text>
<text x="2513" y="922.3" font-size="65" letter-spacing="1.00" font-weight="300">相参</text>
<text x="2647.2" y="922.3" font-size="68" letter-spacing="3.19">FDA</text>
<text x="2791.5" y="922.3" font-size="65" letter-spacing="0.65" font-weight="300">接收端</text>
<text transform="translate(2214.6 1002) scale(0.8 1)" font-size="74">(</text>
<text x="2241" y="1002" font-size="68">b</text>
<text transform="translate(2276.8 1002) scale(0.8 1)" font-size="74">)</text>
<text x="2323.3" y="1002" font-size="68" letter-spacing="1.83">Coherent</text>
<text x="2611" y="1002" font-size="68" letter-spacing="1.94">FDA</text>
<text x="2777.6" y="1002" font-size="68" letter-spacing="3.67">radar</text>
<text x="2956.3" y="1002" font-size="68" letter-spacing="0.35">receiver</text>
</svg></body></html>
